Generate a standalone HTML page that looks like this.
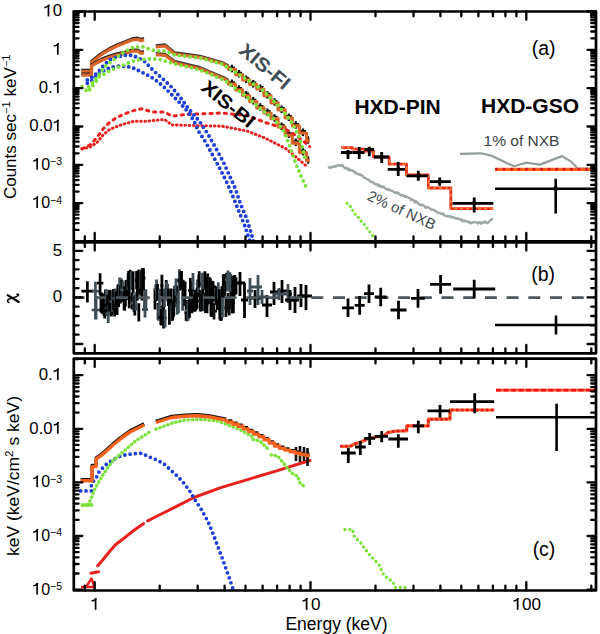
<!DOCTYPE html>
<html><head><meta charset="utf-8"><style>
html,body{margin:0;padding:0;background:#fff;}
svg{display:block;font-family:"Liberation Sans",sans-serif;}
</style></head><body>
<svg width="600" height="634" viewBox="0 0 600 634">
<rect width="600" height="634" fill="#fff"/>
<clipPath id="ca"><rect x="73.8" y="11.5" width="522.2" height="229.8"/></clipPath>
<clipPath id="cb"><rect x="73.8" y="242.3" width="522.2" height="111.0"/></clipPath>
<clipPath id="cc"><rect x="73.8" y="358.6" width="522.2" height="231.89999999999998"/></clipPath>
<g clip-path="url(#ca)">
<polyline points="328.0,167.7 329.0,167.2 330.0,167.9 331.0,166.7 332.0,167.4 333.0,166.9 334.0,166.2 335.0,166.8 336.0,165.7 337.0,166.2 338.0,165.3 339.0,165.0 340.0,165.4 341.0,165.9 342.0,165.1 343.0,165.8 344.0,167.1 345.0,168.2 346.0,168.0 347.0,168.2 348.0,169.8 349.0,168.7 350.0,170.6 351.0,170.1 352.0,170.4 353.0,170.8 354.0,171.7 355.0,173.1 356.0,172.4 357.0,173.6 358.0,174.3 359.0,174.3 360.0,175.1 361.0,174.8 362.0,175.4 363.0,176.3 364.0,177.7 365.0,177.9 366.0,178.3 367.0,179.4 368.0,179.7 369.0,180.0 370.0,181.5 371.0,181.9 372.0,181.5 373.0,182.6 374.0,183.0 375.0,184.2 376.0,184.4 377.0,184.1 378.0,185.9 379.0,184.8 380.0,185.9 381.0,186.9 382.0,186.2 383.0,187.2 384.0,186.8 385.0,188.3 386.0,188.9 387.0,188.9 388.0,189.9 389.0,189.3 390.0,190.4 391.0,190.6 392.0,190.9 393.0,191.1 394.0,192.2 395.0,192.8 396.0,192.4 397.0,193.1 398.0,192.4 399.0,194.0 400.0,194.3 401.0,195.4 402.0,195.6 403.0,195.1 404.0,195.8 405.0,196.8 406.0,196.1 407.0,197.4 408.0,197.4 409.0,197.8 410.0,198.2 411.0,200.0 412.0,199.3 413.0,200.0 414.0,200.8 415.0,202.2 416.0,201.2 417.0,202.4 418.0,203.1 419.0,204.2 420.0,204.6 421.0,205.2 422.0,204.6 423.0,205.3 424.0,205.7 425.0,207.2 426.0,207.8 427.0,206.9 428.0,207.4 429.0,208.0 430.0,208.5 431.0,209.4 432.0,210.0 433.0,209.8 434.0,209.7 435.0,210.9 436.0,211.2 437.0,211.9 438.0,213.0 439.0,212.9 440.0,213.0 441.0,213.6 442.0,214.1 443.0,213.4 444.0,215.3 445.0,215.5 446.0,216.1 447.0,216.3 448.0,216.0 449.0,216.4 450.0,216.3 451.0,217.5 452.0,216.8 453.0,217.1 454.0,217.7 455.0,217.9 456.0,218.5 457.0,218.3 458.0,218.5 459.0,219.1 460.0,219.3 461.0,220.0 462.0,219.6 463.0,221.4 464.0,221.2 465.0,220.6 466.0,221.1 467.0,221.5 468.0,221.8 469.0,221.6 470.0,223.1 471.0,223.4 472.0,222.5 473.0,222.6 474.0,222.0 475.0,222.0 476.0,222.5 477.0,222.4 478.0,223.5 479.0,222.3 480.0,222.1 481.0,223.7 482.0,222.8 483.0,222.0 484.0,222.6 485.0,221.5 486.0,222.3 487.0,223.0 488.0,222.7 489.0,221.8 490.0,220.4 491.0,220.0 492.0,219.0 493.0,219.5" fill="none" stroke="#9ea6a6" stroke-width="2.4" stroke-linejoin="round" />
<polyline points="460.0,153.8 481.0,153.3 491.0,155.6 514.0,166.3 526.0,162.7 540.0,164.6 562.0,156.1 571.0,161.6 578.0,168.7 597.0,168.7" fill="none" stroke="#939c9c" stroke-width="2.2" stroke-linejoin="round" />
<polyline points="81.3,70.0 91.5,70.0 91.5,61.0 96.0,57.2 102.0,52.7 109.5,48.2 117.0,44.5 124.5,41.5 132.0,38.5 138.0,37.8 141.0,39.2 144.0,38.2" fill="none" stroke="#222" stroke-width="2.4" stroke-linejoin="round" />
<polyline points="81.3,71.5 91.5,71.5 91.5,62.5 96.0,58.7 102.0,54.2 109.5,49.7 117.0,46.0 124.5,43.0 132.0,40.0 138.0,39.3 141.0,40.7 144.0,39.7" fill="none" stroke="#d8642a" stroke-width="3.2" stroke-linejoin="round" />
<polyline points="81.3,73.7 91.5,73.7 91.5,64.7 96.0,61.7 102.0,58.7 109.5,55.7 117.0,53.5 124.5,52.0 132.0,49.7 138.0,49.7 141.0,52.0 144.0,51.2" fill="none" stroke="#222" stroke-width="2.4" stroke-linejoin="round" />
<polyline points="81.3,75.2 91.5,75.2 91.5,66.2 96.0,63.2 102.0,60.2 109.5,57.2 117.0,55.0 124.5,53.5 132.0,51.2 138.0,51.2 141.0,53.5 144.0,52.7" fill="none" stroke="#d8642a" stroke-width="3.2" stroke-linejoin="round" />
<polyline points="155.8,45.3 165.0,44.3 175.0,52.3 200.0,55.6 222.0,61.8 228.0,65.0 228.4,67.6" fill="none" stroke="#333" stroke-width="1.9" stroke-linejoin="round" />
<line x1="228.9" y1="67.7" x2="235.0" y2="67.7" stroke="#111" stroke-width="2.6" stroke-linecap="butt"/>
<line x1="231.9" y1="64.8" x2="231.9" y2="72.3" stroke="#111" stroke-width="2.2" stroke-linecap="butt"/>
<line x1="236.0" y1="73.0" x2="242.1" y2="73.0" stroke="#111" stroke-width="2.6" stroke-linecap="butt"/>
<line x1="239.0" y1="70.1" x2="239.0" y2="77.6" stroke="#111" stroke-width="2.2" stroke-linecap="butt"/>
<line x1="243.1" y1="78.3" x2="249.2" y2="78.3" stroke="#111" stroke-width="2.6" stroke-linecap="butt"/>
<line x1="246.1" y1="75.4" x2="246.1" y2="82.9" stroke="#111" stroke-width="2.2" stroke-linecap="butt"/>
<line x1="250.2" y1="82.9" x2="256.3" y2="82.9" stroke="#111" stroke-width="2.6" stroke-linecap="butt"/>
<line x1="253.2" y1="80.0" x2="253.2" y2="87.5" stroke="#111" stroke-width="2.2" stroke-linecap="butt"/>
<line x1="257.3" y1="87.4" x2="263.4" y2="87.4" stroke="#111" stroke-width="2.6" stroke-linecap="butt"/>
<line x1="260.3" y1="84.5" x2="260.3" y2="92.0" stroke="#111" stroke-width="2.2" stroke-linecap="butt"/>
<line x1="264.4" y1="94.1" x2="270.5" y2="94.1" stroke="#111" stroke-width="2.6" stroke-linecap="butt"/>
<line x1="267.4" y1="91.2" x2="267.4" y2="98.7" stroke="#111" stroke-width="2.2" stroke-linecap="butt"/>
<line x1="271.5" y1="101.2" x2="277.6" y2="101.2" stroke="#111" stroke-width="2.6" stroke-linecap="butt"/>
<line x1="274.5" y1="98.3" x2="274.5" y2="105.8" stroke="#111" stroke-width="2.2" stroke-linecap="butt"/>
<line x1="278.6" y1="108.3" x2="284.7" y2="108.3" stroke="#111" stroke-width="2.6" stroke-linecap="butt"/>
<line x1="281.6" y1="105.4" x2="281.6" y2="112.9" stroke="#111" stroke-width="2.2" stroke-linecap="butt"/>
<line x1="285.7" y1="116.4" x2="291.8" y2="116.4" stroke="#111" stroke-width="2.6" stroke-linecap="butt"/>
<line x1="288.8" y1="113.5" x2="288.8" y2="121.0" stroke="#111" stroke-width="2.2" stroke-linecap="butt"/>
<line x1="292.8" y1="124.2" x2="298.9" y2="124.2" stroke="#111" stroke-width="2.6" stroke-linecap="butt"/>
<line x1="295.8" y1="121.3" x2="295.8" y2="128.8" stroke="#111" stroke-width="2.2" stroke-linecap="butt"/>
<line x1="299.9" y1="131.4" x2="306.0" y2="131.4" stroke="#111" stroke-width="2.6" stroke-linecap="butt"/>
<line x1="302.9" y1="128.5" x2="302.9" y2="136.0" stroke="#111" stroke-width="2.2" stroke-linecap="butt"/>
<line x1="307.0" y1="139.2" x2="309.2" y2="139.2" stroke="#111" stroke-width="2.6" stroke-linecap="butt"/>
<line x1="308.1" y1="136.3" x2="308.1" y2="143.8" stroke="#111" stroke-width="2.2" stroke-linecap="butt"/>
<polyline points="155.8,47.0 165.0,46.0 175.0,54.0 200.0,57.3 222.0,63.5 228.0,66.7 228.4,69.3 235.5,69.3 235.5,74.6 242.6,74.6 242.6,79.9 249.7,79.9 249.7,84.5 256.8,84.5 256.8,89.0 263.9,89.0 263.9,95.7 271.0,95.7 271.0,102.8 278.1,102.8 278.1,109.9 285.2,109.9 285.2,118.0 292.3,118.0 292.3,125.8 299.4,125.8 299.4,133.0 306.5,133.0 306.5,140.8 309.7,140.8" fill="none" stroke="#d8642a" stroke-width="3.2" stroke-linejoin="round" />
<polyline points="155.8,53.0 165.0,53.6 175.0,61.0 200.0,67.0 225.0,77.6 228.0,79.5 228.4,82.4" fill="none" stroke="#333" stroke-width="1.9" stroke-linejoin="round" />
<line x1="228.9" y1="82.5" x2="235.0" y2="82.5" stroke="#111" stroke-width="2.6" stroke-linecap="butt"/>
<line x1="231.9" y1="79.6" x2="231.9" y2="87.1" stroke="#111" stroke-width="2.2" stroke-linecap="butt"/>
<line x1="236.0" y1="88.2" x2="242.1" y2="88.2" stroke="#111" stroke-width="2.6" stroke-linecap="butt"/>
<line x1="239.0" y1="85.3" x2="239.0" y2="92.8" stroke="#111" stroke-width="2.2" stroke-linecap="butt"/>
<line x1="243.1" y1="93.9" x2="249.2" y2="93.9" stroke="#111" stroke-width="2.6" stroke-linecap="butt"/>
<line x1="246.1" y1="91.0" x2="246.1" y2="98.5" stroke="#111" stroke-width="2.2" stroke-linecap="butt"/>
<line x1="250.2" y1="100.0" x2="256.3" y2="100.0" stroke="#111" stroke-width="2.6" stroke-linecap="butt"/>
<line x1="253.2" y1="97.1" x2="253.2" y2="104.6" stroke="#111" stroke-width="2.2" stroke-linecap="butt"/>
<line x1="257.3" y1="106.2" x2="263.4" y2="106.2" stroke="#111" stroke-width="2.6" stroke-linecap="butt"/>
<line x1="260.3" y1="103.3" x2="260.3" y2="110.8" stroke="#111" stroke-width="2.2" stroke-linecap="butt"/>
<line x1="264.4" y1="111.4" x2="270.5" y2="111.4" stroke="#111" stroke-width="2.6" stroke-linecap="butt"/>
<line x1="267.4" y1="108.5" x2="267.4" y2="116.0" stroke="#111" stroke-width="2.2" stroke-linecap="butt"/>
<line x1="271.5" y1="117.1" x2="277.6" y2="117.1" stroke="#111" stroke-width="2.6" stroke-linecap="butt"/>
<line x1="274.5" y1="114.2" x2="274.5" y2="121.7" stroke="#111" stroke-width="2.2" stroke-linecap="butt"/>
<line x1="278.6" y1="125.3" x2="284.7" y2="125.3" stroke="#111" stroke-width="2.6" stroke-linecap="butt"/>
<line x1="281.6" y1="122.4" x2="281.6" y2="129.9" stroke="#111" stroke-width="2.2" stroke-linecap="butt"/>
<line x1="285.7" y1="133.5" x2="291.8" y2="133.5" stroke="#111" stroke-width="2.6" stroke-linecap="butt"/>
<line x1="288.8" y1="130.6" x2="288.8" y2="138.1" stroke="#111" stroke-width="2.2" stroke-linecap="butt"/>
<line x1="292.8" y1="141.5" x2="298.9" y2="141.5" stroke="#111" stroke-width="2.6" stroke-linecap="butt"/>
<line x1="295.8" y1="138.6" x2="295.8" y2="146.1" stroke="#111" stroke-width="2.2" stroke-linecap="butt"/>
<line x1="299.9" y1="151.0" x2="306.0" y2="151.0" stroke="#111" stroke-width="2.6" stroke-linecap="butt"/>
<line x1="302.9" y1="148.1" x2="302.9" y2="155.6" stroke="#111" stroke-width="2.2" stroke-linecap="butt"/>
<line x1="307.0" y1="159.1" x2="309.2" y2="159.1" stroke="#111" stroke-width="2.6" stroke-linecap="butt"/>
<line x1="308.1" y1="156.2" x2="308.1" y2="163.7" stroke="#111" stroke-width="2.2" stroke-linecap="butt"/>
<polyline points="155.8,54.7 165.0,55.3 175.0,62.7 200.0,68.7 225.0,79.3 228.0,81.2 228.4,84.1 235.5,84.1 235.5,89.8 242.6,89.8 242.6,95.5 249.7,95.5 249.7,101.6 256.8,101.6 256.8,107.8 263.9,107.8 263.9,113.0 271.0,113.0 271.0,118.7 278.1,118.7 278.1,126.9 285.2,126.9 285.2,135.1 292.3,135.1 292.3,143.1 299.4,143.1 299.4,152.6 306.5,152.6 306.5,160.7 309.7,160.7" fill="none" stroke="#d8642a" stroke-width="3.2" stroke-linejoin="round" />
<polyline points="82.0,148.8 90.0,145.0 97.0,137.5 103.0,129.0 109.5,122.5 116.0,118.0 122.0,115.0 132.0,111.0 142.0,108.8 152.0,112.0 164.5,112.0 172.0,116.2 184.5,114.5 222.0,113.0 247.0,115.5 265.0,122.4 282.0,127.6 292.0,132.8 304.0,141.5 309.7,146.7" fill="none" stroke="#e8201e" stroke-width="3.0" stroke-linejoin="round" stroke-linecap="round" stroke-dasharray="2.2 5"/>
<polyline points="82.0,148.8 90.0,147.0 97.0,142.5 103.0,135.0 109.5,129.5 122.0,124.5 134.5,121.2 147.0,121.2 164.5,119.5 172.0,125.0 222.0,126.2 247.0,131.0 265.0,138.0 275.0,143.2 285.5,148.4 296.0,157.0 306.0,165.7" fill="none" stroke="#e8201e" stroke-width="3.0" stroke-linejoin="round" stroke-linecap="round" stroke-dasharray="0.6 3.6"/>
<polyline points="87.3,80.0 94.0,76.0 98.0,72.0 102.7,66.5 109.3,60.0 116.0,57.3 124.0,55.3 132.0,55.3 138.7,58.0 145.3,62.0 150.0,67.3 155.0,72.0 164.0,80.0 172.0,87.5 180.0,97.0 188.0,108.0 194.0,115.0 200.0,122.0 208.4,135.0 216.0,148.4 223.2,161.7 229.2,175.0 235.5,189.0 240.2,203.3 246.5,218.0 252.0,236.0 254.0,244.0" fill="none" stroke="#1f3fd8" stroke-width="3.9" stroke-linejoin="round" stroke-linecap="round" stroke-dasharray="0 5.2"/>
<polyline points="87.3,83.3 92.7,80.0 96.0,76.0 100.7,72.7 104.7,70.0 111.3,67.3 120.0,66.0 126.7,66.4 133.3,68.0 140.7,71.7 148.0,75.3 154.7,79.3 164.0,87.0 172.0,95.0 180.0,103.0 188.0,112.0 194.0,121.0 198.0,130.4 206.0,142.7 213.1,156.0 220.7,170.2 227.3,183.4 233.0,196.7 238.7,210.9 244.5,225.0 249.5,240.0 251.0,244.0" fill="none" stroke="#1f3fd8" stroke-width="3.9" stroke-linejoin="round" stroke-linecap="round" stroke-dasharray="0 5.2"/>
<polyline points="88.7,86.7 94.0,81.0 99.0,75.0 104.0,67.3 108.0,64.0 114.0,59.5 120.0,54.7 126.7,50.7 133.3,47.3 141.3,46.4 148.0,48.7 154.7,50.7 165.0,51.0 175.0,55.0 200.0,58.0 222.0,64.0 247.0,79.5 262.0,89.5 274.0,101.5 284.0,112.0 292.0,123.0 298.0,134.0 302.0,146.0 305.0,158.0" fill="none" stroke="#7be23a" stroke-width="3.8" stroke-linejoin="round" stroke-linecap="round" stroke-dasharray="0 5.4"/>
<polyline points="82.0,86.7 88.0,92.0 94.0,84.0 97.3,80.0 99.3,76.5 103.3,74.7 108.0,71.5 114.7,68.5 121.3,66.0 129.3,62.5 136.0,60.2 144.0,59.3 152.0,58.7 160.0,59.5 175.0,64.0 200.0,70.0 225.0,80.5 247.0,97.0 262.0,110.0 274.0,119.0 284.0,131.0 290.0,146.7 296.0,164.0 301.0,176.0 305.6,186.0" fill="none" stroke="#7be23a" stroke-width="3.8" stroke-linejoin="round" stroke-linecap="round" stroke-dasharray="0 5.4"/>
<polyline points="341.2,147.7 352.5,147.7 352.5,149.2 364.5,149.2 364.5,151.0 373.5,151.0 373.5,157.0 389.2,157.0 389.2,164.2 406.5,164.2 406.5,175.0 428.3,175.0 428.3,188.0 450.8,188.0 450.8,208.7 493.3,208.7" fill="none" stroke="#ee2a1a" stroke-width="2.8" stroke-linejoin="round" />
<polyline points="341.2,147.7 352.5,147.7 352.5,149.2 364.5,149.2 364.5,151.0 373.5,151.0 373.5,157.0 389.2,157.0 389.2,164.2 406.5,164.2 406.5,175.0 428.3,175.0 428.3,188.0 450.8,188.0 450.8,208.7 493.3,208.7" fill="none" stroke="#f08a3a" stroke-width="1.4" stroke-linejoin="round" stroke-dasharray="3 3"/>
<line x1="341.0" y1="152.5" x2="352.5" y2="152.5" stroke="#000" stroke-width="2.8" stroke-linecap="butt"/>
<line x1="348.0" y1="150.0" x2="348.0" y2="159.0" stroke="#000" stroke-width="2.8" stroke-linecap="butt"/>
<circle cx="348" cy="152.5" r="2.3" fill="#000"/>
<line x1="352.5" y1="152.5" x2="364.5" y2="152.5" stroke="#000" stroke-width="2.8" stroke-linecap="butt"/>
<line x1="359.2" y1="147.0" x2="359.2" y2="159.0" stroke="#000" stroke-width="2.8" stroke-linecap="butt"/>
<circle cx="359.2" cy="152.5" r="2.3" fill="#000"/>
<line x1="364.5" y1="149.5" x2="374.0" y2="149.5" stroke="#000" stroke-width="2.8" stroke-linecap="butt"/>
<line x1="369.3" y1="146.8" x2="369.3" y2="156.2" stroke="#000" stroke-width="2.8" stroke-linecap="butt"/>
<circle cx="369.3" cy="149.5" r="2.3" fill="#000"/>
<line x1="374.0" y1="157.0" x2="389.0" y2="157.0" stroke="#000" stroke-width="2.8" stroke-linecap="butt"/>
<line x1="381.7" y1="152.0" x2="381.7" y2="163.0" stroke="#000" stroke-width="2.8" stroke-linecap="butt"/>
<circle cx="381.7" cy="157" r="2.3" fill="#000"/>
<line x1="387.7" y1="169.3" x2="405.0" y2="169.3" stroke="#000" stroke-width="2.8" stroke-linecap="butt"/>
<line x1="398.2" y1="162.0" x2="398.2" y2="176.0" stroke="#000" stroke-width="2.8" stroke-linecap="butt"/>
<circle cx="398.2" cy="169.3" r="2.3" fill="#000"/>
<line x1="406.5" y1="175.8" x2="428.3" y2="175.8" stroke="#000" stroke-width="2.8" stroke-linecap="butt"/>
<line x1="418.3" y1="170.8" x2="418.3" y2="180.8" stroke="#000" stroke-width="2.8" stroke-linecap="butt"/>
<circle cx="418.3" cy="175.8" r="2.3" fill="#000"/>
<line x1="430.0" y1="181.7" x2="450.8" y2="181.7" stroke="#000" stroke-width="2.8" stroke-linecap="butt"/>
<line x1="439.7" y1="177.5" x2="439.7" y2="185.8" stroke="#000" stroke-width="2.8" stroke-linecap="butt"/>
<circle cx="439.7" cy="181.7" r="2.3" fill="#000"/>
<line x1="452.5" y1="203.3" x2="493.3" y2="203.3" stroke="#000" stroke-width="2.8" stroke-linecap="butt"/>
<line x1="474.2" y1="197.5" x2="474.2" y2="212.5" stroke="#000" stroke-width="2.8" stroke-linecap="butt"/>
<circle cx="474.2" cy="203.3" r="2.3" fill="#000"/>
<polyline points="347.0,203.3 351.0,207.0 354.0,213.0 358.0,217.0 361.0,221.0 364.0,224.0 367.0,228.0 370.0,232.0 373.0,236.0" fill="none" stroke="#7be23a" stroke-width="3.2" stroke-linejoin="round" stroke-linecap="round" stroke-dasharray="0 4.6"/>
<line x1="495.0" y1="169.3" x2="597.0" y2="169.3" stroke="#f5641e" stroke-width="3.2" stroke-linecap="butt"/>
<line x1="496.5" y1="169.3" x2="597" y2="169.3" stroke="#e0141c" stroke-width="3.2" stroke-linecap="round" stroke-dasharray="0 7.5"/>
<line x1="495.0" y1="188.7" x2="597.0" y2="188.7" stroke="#000" stroke-width="2.6" stroke-linecap="butt"/>
<line x1="555.7" y1="178.8" x2="555.7" y2="213.6" stroke="#000" stroke-width="2.6" stroke-linecap="butt"/>
<circle cx="555.7" cy="188.7" r="2.4" fill="#000"/>
</g>
<g clip-path="url(#cb)">
<line x1="87.4" y1="281.2" x2="87.4" y2="302.6" stroke="#000" stroke-width="2.7" stroke-linecap="butt"/>
<line x1="81.4" y1="291.2" x2="93.4" y2="291.2" stroke="#000" stroke-width="2.7" stroke-linecap="butt"/>
<line x1="95.4" y1="281.7" x2="95.4" y2="319.2" stroke="#3f4e56" stroke-width="2.7" stroke-linecap="butt"/>
<line x1="91.9" y1="291.2" x2="98.9" y2="291.2" stroke="#3f4e56" stroke-width="2.7" stroke-linecap="butt"/>
<line x1="100.1" y1="273.2" x2="100.1" y2="295.2" stroke="#000" stroke-width="2.7" stroke-linecap="butt"/>
<line x1="96.9" y1="283.2" x2="103.3" y2="283.2" stroke="#000" stroke-width="2.7" stroke-linecap="butt"/>
<line x1="96.1" y1="296.0" x2="96.1" y2="319.5" stroke="#3f4e56" stroke-width="2.7" stroke-linecap="butt"/>
<line x1="91.6" y1="310.0" x2="100.6" y2="310.0" stroke="#3f4e56" stroke-width="2.7" stroke-linecap="butt"/>
<line x1="101.0" y1="293.4" x2="101.0" y2="312.6" stroke="#000" stroke-width="2.8" stroke-linecap="butt"/>
<line x1="101.9" y1="292.6" x2="101.9" y2="313.4" stroke="#000" stroke-width="2.8" stroke-linecap="butt"/>
<line x1="102.9" y1="293.7" x2="102.9" y2="314.1" stroke="#000" stroke-width="2.8" stroke-linecap="butt"/>
<line x1="104.0" y1="295.3" x2="104.0" y2="316.0" stroke="#000" stroke-width="2.8" stroke-linecap="butt"/>
<line x1="102.5" y1="305.7" x2="105.5" y2="305.7" stroke="#000" stroke-width="2.8" stroke-linecap="butt"/>
<line x1="104.7" y1="296.8" x2="104.7" y2="318.4" stroke="#000" stroke-width="2.8" stroke-linecap="butt"/>
<line x1="105.4" y1="289.7" x2="105.4" y2="307.0" stroke="#000" stroke-width="2.8" stroke-linecap="butt"/>
<line x1="106.1" y1="289.3" x2="106.1" y2="309.2" stroke="#3f4e56" stroke-width="2.8" stroke-linecap="butt"/>
<line x1="107.2" y1="295.2" x2="107.2" y2="315.9" stroke="#000" stroke-width="2.8" stroke-linecap="butt"/>
<line x1="104.2" y1="305.5" x2="110.2" y2="305.5" stroke="#000" stroke-width="2.8" stroke-linecap="butt"/>
<line x1="108.2" y1="304.9" x2="108.2" y2="322.9" stroke="#3f4e56" stroke-width="2.8" stroke-linecap="butt"/>
<line x1="105.2" y1="313.9" x2="111.2" y2="313.9" stroke="#3f4e56" stroke-width="2.8" stroke-linecap="butt"/>
<line x1="108.9" y1="290.0" x2="108.9" y2="311.6" stroke="#000" stroke-width="2.8" stroke-linecap="butt"/>
<line x1="109.5" y1="289.8" x2="109.5" y2="311.2" stroke="#111" stroke-width="2.8" stroke-linecap="butt"/>
<line x1="106.5" y1="300.5" x2="112.5" y2="300.5" stroke="#111" stroke-width="2.8" stroke-linecap="butt"/>
<line x1="110.4" y1="290.2" x2="110.4" y2="308.3" stroke="#000" stroke-width="2.8" stroke-linecap="butt"/>
<line x1="111.2" y1="294.9" x2="111.2" y2="316.5" stroke="#111" stroke-width="2.8" stroke-linecap="butt"/>
<line x1="111.7" y1="298.2" x2="111.7" y2="315.5" stroke="#000" stroke-width="2.8" stroke-linecap="butt"/>
<line x1="110.2" y1="306.9" x2="113.2" y2="306.9" stroke="#000" stroke-width="2.8" stroke-linecap="butt"/>
<line x1="112.5" y1="291.1" x2="112.5" y2="312.1" stroke="#3f4e56" stroke-width="2.8" stroke-linecap="butt"/>
<line x1="109.5" y1="301.6" x2="115.5" y2="301.6" stroke="#3f4e56" stroke-width="2.8" stroke-linecap="butt"/>
<line x1="113.5" y1="289.1" x2="113.5" y2="310.3" stroke="#000" stroke-width="2.8" stroke-linecap="butt"/>
<line x1="114.6" y1="295.8" x2="114.6" y2="316.5" stroke="#000" stroke-width="2.8" stroke-linecap="butt"/>
<line x1="115.2" y1="288.4" x2="115.2" y2="308.1" stroke="#3f4e56" stroke-width="2.8" stroke-linecap="butt"/>
<line x1="112.2" y1="298.3" x2="118.2" y2="298.3" stroke="#3f4e56" stroke-width="2.8" stroke-linecap="butt"/>
<line x1="116.1" y1="291.3" x2="116.1" y2="307.9" stroke="#000" stroke-width="2.8" stroke-linecap="butt"/>
<line x1="117.1" y1="296.0" x2="117.1" y2="315.1" stroke="#000" stroke-width="2.8" stroke-linecap="butt"/>
<line x1="114.1" y1="305.6" x2="120.1" y2="305.6" stroke="#000" stroke-width="2.8" stroke-linecap="butt"/>
<line x1="117.8" y1="285.1" x2="117.8" y2="306.9" stroke="#000" stroke-width="2.8" stroke-linecap="butt"/>
<line x1="114.8" y1="296.0" x2="120.8" y2="296.0" stroke="#000" stroke-width="2.8" stroke-linecap="butt"/>
<line x1="118.6" y1="284.0" x2="118.6" y2="304.9" stroke="#000" stroke-width="2.8" stroke-linecap="butt"/>
<line x1="117.1" y1="294.5" x2="120.1" y2="294.5" stroke="#000" stroke-width="2.8" stroke-linecap="butt"/>
<line x1="119.6" y1="277.5" x2="119.6" y2="298.9" stroke="#3f4e56" stroke-width="2.8" stroke-linecap="butt"/>
<line x1="120.4" y1="285.6" x2="120.4" y2="303.5" stroke="#000" stroke-width="2.8" stroke-linecap="butt"/>
<line x1="118.9" y1="294.6" x2="121.9" y2="294.6" stroke="#000" stroke-width="2.8" stroke-linecap="butt"/>
<line x1="121.3" y1="278.2" x2="121.3" y2="299.5" stroke="#3f4e56" stroke-width="2.8" stroke-linecap="butt"/>
<line x1="119.8" y1="288.8" x2="122.8" y2="288.8" stroke="#3f4e56" stroke-width="2.8" stroke-linecap="butt"/>
<line x1="121.9" y1="280.2" x2="121.9" y2="301.5" stroke="#000" stroke-width="2.8" stroke-linecap="butt"/>
<line x1="118.9" y1="290.8" x2="124.9" y2="290.8" stroke="#000" stroke-width="2.8" stroke-linecap="butt"/>
<line x1="123.0" y1="281.4" x2="123.0" y2="298.4" stroke="#3f4e56" stroke-width="2.8" stroke-linecap="butt"/>
<line x1="120.0" y1="289.9" x2="126.0" y2="289.9" stroke="#3f4e56" stroke-width="2.8" stroke-linecap="butt"/>
<line x1="124.1" y1="291.5" x2="124.1" y2="309.9" stroke="#000" stroke-width="2.8" stroke-linecap="butt"/>
<line x1="122.6" y1="300.7" x2="125.6" y2="300.7" stroke="#000" stroke-width="2.8" stroke-linecap="butt"/>
<line x1="124.6" y1="291.4" x2="124.6" y2="310.8" stroke="#000" stroke-width="2.8" stroke-linecap="butt"/>
<line x1="123.1" y1="301.1" x2="126.1" y2="301.1" stroke="#000" stroke-width="2.8" stroke-linecap="butt"/>
<line x1="125.4" y1="290.3" x2="125.4" y2="306.6" stroke="#000" stroke-width="2.8" stroke-linecap="butt"/>
<line x1="126.0" y1="279.9" x2="126.0" y2="296.1" stroke="#000" stroke-width="2.8" stroke-linecap="butt"/>
<line x1="123.0" y1="288.0" x2="129.0" y2="288.0" stroke="#000" stroke-width="2.8" stroke-linecap="butt"/>
<line x1="127.0" y1="279.8" x2="127.0" y2="299.9" stroke="#000" stroke-width="2.8" stroke-linecap="butt"/>
<line x1="124.0" y1="289.9" x2="130.0" y2="289.9" stroke="#000" stroke-width="2.8" stroke-linecap="butt"/>
<line x1="128.0" y1="273.5" x2="128.0" y2="290.0" stroke="#3f4e56" stroke-width="2.8" stroke-linecap="butt"/>
<line x1="128.6" y1="271.1" x2="128.6" y2="287.2" stroke="#000" stroke-width="2.8" stroke-linecap="butt"/>
<line x1="129.2" y1="287.1" x2="129.2" y2="308.3" stroke="#000" stroke-width="2.8" stroke-linecap="butt"/>
<line x1="126.2" y1="297.7" x2="132.2" y2="297.7" stroke="#000" stroke-width="2.8" stroke-linecap="butt"/>
<line x1="130.2" y1="269.8" x2="130.2" y2="287.4" stroke="#000" stroke-width="2.8" stroke-linecap="butt"/>
<line x1="131.3" y1="272.1" x2="131.3" y2="289.7" stroke="#3f4e56" stroke-width="2.8" stroke-linecap="butt"/>
<line x1="129.8" y1="280.9" x2="132.8" y2="280.9" stroke="#3f4e56" stroke-width="2.8" stroke-linecap="butt"/>
<line x1="132.1" y1="292.4" x2="132.1" y2="309.6" stroke="#000" stroke-width="2.8" stroke-linecap="butt"/>
<line x1="130.6" y1="301.0" x2="133.6" y2="301.0" stroke="#000" stroke-width="2.8" stroke-linecap="butt"/>
<line x1="133.1" y1="271.2" x2="133.1" y2="293.1" stroke="#000" stroke-width="2.8" stroke-linecap="butt"/>
<line x1="133.9" y1="294.4" x2="133.9" y2="311.9" stroke="#3f4e56" stroke-width="2.8" stroke-linecap="butt"/>
<line x1="130.9" y1="303.2" x2="136.9" y2="303.2" stroke="#3f4e56" stroke-width="2.8" stroke-linecap="butt"/>
<line x1="134.8" y1="296.2" x2="134.8" y2="315.5" stroke="#000" stroke-width="2.8" stroke-linecap="butt"/>
<line x1="135.9" y1="292.3" x2="135.9" y2="310.4" stroke="#3f4e56" stroke-width="2.8" stroke-linecap="butt"/>
<line x1="136.6" y1="271.1" x2="136.6" y2="289.2" stroke="#000" stroke-width="2.8" stroke-linecap="butt"/>
<line x1="135.1" y1="280.1" x2="138.1" y2="280.1" stroke="#000" stroke-width="2.8" stroke-linecap="butt"/>
<line x1="137.4" y1="284.3" x2="137.4" y2="300.6" stroke="#000" stroke-width="2.8" stroke-linecap="butt"/>
<line x1="135.9" y1="292.5" x2="138.9" y2="292.5" stroke="#000" stroke-width="2.8" stroke-linecap="butt"/>
<line x1="138.3" y1="270.3" x2="138.3" y2="290.5" stroke="#000" stroke-width="2.8" stroke-linecap="butt"/>
<line x1="135.3" y1="280.4" x2="141.3" y2="280.4" stroke="#000" stroke-width="2.8" stroke-linecap="butt"/>
<line x1="138.8" y1="303.3" x2="138.8" y2="321.4" stroke="#000" stroke-width="2.8" stroke-linecap="butt"/>
<line x1="139.3" y1="269.5" x2="139.3" y2="290.8" stroke="#000" stroke-width="2.8" stroke-linecap="butt"/>
<line x1="136.3" y1="280.2" x2="142.3" y2="280.2" stroke="#000" stroke-width="2.8" stroke-linecap="butt"/>
<line x1="139.8" y1="277.8" x2="139.8" y2="295.5" stroke="#111" stroke-width="2.8" stroke-linecap="butt"/>
<line x1="140.4" y1="269.9" x2="140.4" y2="290.8" stroke="#3f4e56" stroke-width="2.8" stroke-linecap="butt"/>
<line x1="141.1" y1="270.4" x2="141.1" y2="290.2" stroke="#111" stroke-width="2.8" stroke-linecap="butt"/>
<line x1="142.0" y1="280.3" x2="142.0" y2="300.6" stroke="#000" stroke-width="2.8" stroke-linecap="butt"/>
<line x1="139.0" y1="290.5" x2="145.0" y2="290.5" stroke="#000" stroke-width="2.8" stroke-linecap="butt"/>
<line x1="142.5" y1="267.9" x2="142.5" y2="288.2" stroke="#111" stroke-width="2.8" stroke-linecap="butt"/>
<line x1="139.5" y1="278.1" x2="145.5" y2="278.1" stroke="#111" stroke-width="2.8" stroke-linecap="butt"/>
<line x1="143.5" y1="268.2" x2="143.5" y2="289.1" stroke="#000" stroke-width="2.8" stroke-linecap="butt"/>
<line x1="144.5" y1="289.9" x2="144.5" y2="309.4" stroke="#3f4e56" stroke-width="2.8" stroke-linecap="butt"/>
<line x1="145.0" y1="301.3" x2="145.0" y2="317.6" stroke="#3f4e56" stroke-width="2.8" stroke-linecap="butt"/>
<line x1="142.0" y1="309.5" x2="148.0" y2="309.5" stroke="#3f4e56" stroke-width="2.8" stroke-linecap="butt"/>
<line x1="145.9" y1="289.3" x2="145.9" y2="309.0" stroke="#3f4e56" stroke-width="2.8" stroke-linecap="butt"/>
<line x1="144.4" y1="299.1" x2="147.4" y2="299.1" stroke="#3f4e56" stroke-width="2.8" stroke-linecap="butt"/>
<line x1="155.0" y1="288.7" x2="155.0" y2="309.4" stroke="#000" stroke-width="2.8" stroke-linecap="butt"/>
<line x1="155.9" y1="284.6" x2="155.9" y2="301.0" stroke="#000" stroke-width="2.8" stroke-linecap="butt"/>
<line x1="154.4" y1="292.8" x2="157.4" y2="292.8" stroke="#000" stroke-width="2.8" stroke-linecap="butt"/>
<line x1="156.5" y1="279.4" x2="156.5" y2="299.9" stroke="#3f4e56" stroke-width="2.8" stroke-linecap="butt"/>
<line x1="153.5" y1="289.7" x2="159.5" y2="289.7" stroke="#3f4e56" stroke-width="2.8" stroke-linecap="butt"/>
<line x1="157.5" y1="284.1" x2="157.5" y2="300.6" stroke="#000" stroke-width="2.8" stroke-linecap="butt"/>
<line x1="158.1" y1="303.0" x2="158.1" y2="319.9" stroke="#000" stroke-width="2.8" stroke-linecap="butt"/>
<line x1="158.6" y1="304.3" x2="158.6" y2="320.7" stroke="#3f4e56" stroke-width="2.8" stroke-linecap="butt"/>
<line x1="159.5" y1="289.0" x2="159.5" y2="306.8" stroke="#3f4e56" stroke-width="2.8" stroke-linecap="butt"/>
<line x1="160.6" y1="305.5" x2="160.6" y2="324.8" stroke="#3f4e56" stroke-width="2.8" stroke-linecap="butt"/>
<line x1="161.3" y1="309.2" x2="161.3" y2="325.6" stroke="#000" stroke-width="2.8" stroke-linecap="butt"/>
<line x1="158.3" y1="317.4" x2="164.3" y2="317.4" stroke="#000" stroke-width="2.8" stroke-linecap="butt"/>
<line x1="161.9" y1="274.8" x2="161.9" y2="296.5" stroke="#000" stroke-width="2.8" stroke-linecap="butt"/>
<line x1="160.4" y1="285.6" x2="163.4" y2="285.6" stroke="#000" stroke-width="2.8" stroke-linecap="butt"/>
<line x1="163.0" y1="292.1" x2="163.0" y2="308.9" stroke="#000" stroke-width="2.8" stroke-linecap="butt"/>
<line x1="161.5" y1="300.5" x2="164.5" y2="300.5" stroke="#000" stroke-width="2.8" stroke-linecap="butt"/>
<line x1="163.6" y1="307.1" x2="163.6" y2="328.5" stroke="#000" stroke-width="2.8" stroke-linecap="butt"/>
<line x1="160.6" y1="317.8" x2="166.6" y2="317.8" stroke="#000" stroke-width="2.8" stroke-linecap="butt"/>
<line x1="164.5" y1="288.8" x2="164.5" y2="307.2" stroke="#3f4e56" stroke-width="2.8" stroke-linecap="butt"/>
<line x1="163.0" y1="298.0" x2="166.0" y2="298.0" stroke="#3f4e56" stroke-width="2.8" stroke-linecap="butt"/>
<line x1="165.1" y1="309.5" x2="165.1" y2="327.4" stroke="#3f4e56" stroke-width="2.8" stroke-linecap="butt"/>
<line x1="166.2" y1="280.0" x2="166.2" y2="297.1" stroke="#000" stroke-width="2.8" stroke-linecap="butt"/>
<line x1="164.7" y1="288.6" x2="167.7" y2="288.6" stroke="#000" stroke-width="2.8" stroke-linecap="butt"/>
<line x1="166.7" y1="281.5" x2="166.7" y2="299.8" stroke="#3f4e56" stroke-width="2.8" stroke-linecap="butt"/>
<line x1="165.2" y1="290.7" x2="168.2" y2="290.7" stroke="#3f4e56" stroke-width="2.8" stroke-linecap="butt"/>
<line x1="167.7" y1="283.9" x2="167.7" y2="301.6" stroke="#3f4e56" stroke-width="2.8" stroke-linecap="butt"/>
<line x1="168.4" y1="288.5" x2="168.4" y2="306.1" stroke="#000" stroke-width="2.8" stroke-linecap="butt"/>
<line x1="165.4" y1="297.3" x2="171.4" y2="297.3" stroke="#000" stroke-width="2.8" stroke-linecap="butt"/>
<line x1="169.4" y1="303.8" x2="169.4" y2="324.7" stroke="#000" stroke-width="2.8" stroke-linecap="butt"/>
<line x1="170.3" y1="297.2" x2="170.3" y2="313.5" stroke="#111" stroke-width="2.8" stroke-linecap="butt"/>
<line x1="171.2" y1="288.4" x2="171.2" y2="306.1" stroke="#000" stroke-width="2.8" stroke-linecap="butt"/>
<line x1="172.0" y1="303.1" x2="172.0" y2="321.2" stroke="#3f4e56" stroke-width="2.8" stroke-linecap="butt"/>
<line x1="170.5" y1="312.2" x2="173.5" y2="312.2" stroke="#3f4e56" stroke-width="2.8" stroke-linecap="butt"/>
<line x1="172.7" y1="303.0" x2="172.7" y2="320.4" stroke="#000" stroke-width="2.8" stroke-linecap="butt"/>
<line x1="173.6" y1="300.3" x2="173.6" y2="316.8" stroke="#000" stroke-width="2.8" stroke-linecap="butt"/>
<line x1="174.4" y1="289.1" x2="174.4" y2="307.1" stroke="#000" stroke-width="2.8" stroke-linecap="butt"/>
<line x1="175.0" y1="285.7" x2="175.0" y2="302.8" stroke="#000" stroke-width="2.8" stroke-linecap="butt"/>
<line x1="173.5" y1="294.3" x2="176.5" y2="294.3" stroke="#000" stroke-width="2.8" stroke-linecap="butt"/>
<line x1="176.0" y1="278.6" x2="176.0" y2="295.8" stroke="#3f4e56" stroke-width="2.8" stroke-linecap="butt"/>
<line x1="173.0" y1="287.2" x2="179.0" y2="287.2" stroke="#3f4e56" stroke-width="2.8" stroke-linecap="butt"/>
<line x1="177.0" y1="297.4" x2="177.0" y2="314.7" stroke="#3f4e56" stroke-width="2.8" stroke-linecap="butt"/>
<line x1="175.5" y1="306.1" x2="178.5" y2="306.1" stroke="#3f4e56" stroke-width="2.8" stroke-linecap="butt"/>
<line x1="177.8" y1="285.8" x2="177.8" y2="303.9" stroke="#111" stroke-width="2.8" stroke-linecap="butt"/>
<line x1="178.4" y1="291.8" x2="178.4" y2="313.2" stroke="#3f4e56" stroke-width="2.8" stroke-linecap="butt"/>
<line x1="176.9" y1="302.5" x2="179.9" y2="302.5" stroke="#3f4e56" stroke-width="2.8" stroke-linecap="butt"/>
<line x1="179.4" y1="269.3" x2="179.4" y2="290.6" stroke="#3f4e56" stroke-width="2.8" stroke-linecap="butt"/>
<line x1="176.4" y1="280.0" x2="182.4" y2="280.0" stroke="#3f4e56" stroke-width="2.8" stroke-linecap="butt"/>
<line x1="180.5" y1="271.6" x2="180.5" y2="290.5" stroke="#111" stroke-width="2.8" stroke-linecap="butt"/>
<line x1="177.5" y1="281.0" x2="183.5" y2="281.0" stroke="#111" stroke-width="2.8" stroke-linecap="butt"/>
<line x1="181.5" y1="271.1" x2="181.5" y2="288.6" stroke="#000" stroke-width="2.8" stroke-linecap="butt"/>
<line x1="182.6" y1="290.5" x2="182.6" y2="310.8" stroke="#3f4e56" stroke-width="2.8" stroke-linecap="butt"/>
<line x1="183.4" y1="280.2" x2="183.4" y2="296.5" stroke="#000" stroke-width="2.8" stroke-linecap="butt"/>
<line x1="181.9" y1="288.4" x2="184.9" y2="288.4" stroke="#000" stroke-width="2.8" stroke-linecap="butt"/>
<line x1="184.5" y1="285.9" x2="184.5" y2="305.7" stroke="#111" stroke-width="2.8" stroke-linecap="butt"/>
<line x1="185.1" y1="281.5" x2="185.1" y2="299.3" stroke="#000" stroke-width="2.8" stroke-linecap="butt"/>
<line x1="186.1" y1="304.7" x2="186.1" y2="320.7" stroke="#000" stroke-width="2.8" stroke-linecap="butt"/>
<line x1="184.6" y1="312.7" x2="187.6" y2="312.7" stroke="#000" stroke-width="2.8" stroke-linecap="butt"/>
<line x1="186.9" y1="299.9" x2="186.9" y2="321.2" stroke="#000" stroke-width="2.8" stroke-linecap="butt"/>
<line x1="188.0" y1="300.5" x2="188.0" y2="320.7" stroke="#3f4e56" stroke-width="2.8" stroke-linecap="butt"/>
<line x1="185.0" y1="310.6" x2="191.0" y2="310.6" stroke="#3f4e56" stroke-width="2.8" stroke-linecap="butt"/>
<line x1="188.6" y1="301.6" x2="188.6" y2="319.0" stroke="#3f4e56" stroke-width="2.8" stroke-linecap="butt"/>
<line x1="189.5" y1="297.5" x2="189.5" y2="317.8" stroke="#000" stroke-width="2.8" stroke-linecap="butt"/>
<line x1="188.0" y1="307.6" x2="191.0" y2="307.6" stroke="#000" stroke-width="2.8" stroke-linecap="butt"/>
<line x1="190.4" y1="278.0" x2="190.4" y2="297.0" stroke="#000" stroke-width="2.8" stroke-linecap="butt"/>
<line x1="191.1" y1="281.7" x2="191.1" y2="299.0" stroke="#000" stroke-width="2.8" stroke-linecap="butt"/>
<line x1="188.1" y1="290.3" x2="194.1" y2="290.3" stroke="#000" stroke-width="2.8" stroke-linecap="butt"/>
<line x1="191.9" y1="291.9" x2="191.9" y2="313.2" stroke="#000" stroke-width="2.8" stroke-linecap="butt"/>
<line x1="193.0" y1="273.1" x2="193.0" y2="289.5" stroke="#3f4e56" stroke-width="2.8" stroke-linecap="butt"/>
<line x1="193.9" y1="294.3" x2="193.9" y2="311.4" stroke="#000" stroke-width="2.8" stroke-linecap="butt"/>
<line x1="195.0" y1="290.1" x2="195.0" y2="311.7" stroke="#000" stroke-width="2.8" stroke-linecap="butt"/>
<line x1="192.0" y1="300.9" x2="198.0" y2="300.9" stroke="#000" stroke-width="2.8" stroke-linecap="butt"/>
<line x1="195.5" y1="290.5" x2="195.5" y2="310.5" stroke="#000" stroke-width="2.8" stroke-linecap="butt"/>
<line x1="192.5" y1="300.5" x2="198.5" y2="300.5" stroke="#000" stroke-width="2.8" stroke-linecap="butt"/>
<line x1="196.1" y1="294.0" x2="196.1" y2="310.0" stroke="#000" stroke-width="2.8" stroke-linecap="butt"/>
<line x1="196.9" y1="288.2" x2="196.9" y2="308.8" stroke="#000" stroke-width="2.8" stroke-linecap="butt"/>
<line x1="197.8" y1="279.6" x2="197.8" y2="296.8" stroke="#000" stroke-width="2.8" stroke-linecap="butt"/>
<line x1="196.3" y1="288.2" x2="199.3" y2="288.2" stroke="#000" stroke-width="2.8" stroke-linecap="butt"/>
<line x1="198.7" y1="274.4" x2="198.7" y2="293.2" stroke="#3f4e56" stroke-width="2.8" stroke-linecap="butt"/>
<line x1="195.7" y1="283.8" x2="201.7" y2="283.8" stroke="#3f4e56" stroke-width="2.8" stroke-linecap="butt"/>
<line x1="199.2" y1="271.2" x2="199.2" y2="287.4" stroke="#000" stroke-width="2.8" stroke-linecap="butt"/>
<line x1="200.2" y1="289.9" x2="200.2" y2="311.3" stroke="#000" stroke-width="2.8" stroke-linecap="butt"/>
<line x1="200.8" y1="291.2" x2="200.8" y2="311.5" stroke="#000" stroke-width="2.8" stroke-linecap="butt"/>
<line x1="201.4" y1="292.2" x2="201.4" y2="309.6" stroke="#111" stroke-width="2.8" stroke-linecap="butt"/>
<line x1="198.4" y1="300.9" x2="204.4" y2="300.9" stroke="#111" stroke-width="2.8" stroke-linecap="butt"/>
<line x1="202.3" y1="272.7" x2="202.3" y2="294.2" stroke="#3f4e56" stroke-width="2.8" stroke-linecap="butt"/>
<line x1="202.8" y1="289.2" x2="202.8" y2="310.8" stroke="#000" stroke-width="2.8" stroke-linecap="butt"/>
<line x1="203.5" y1="292.8" x2="203.5" y2="310.7" stroke="#000" stroke-width="2.8" stroke-linecap="butt"/>
<line x1="204.3" y1="294.3" x2="204.3" y2="311.3" stroke="#3f4e56" stroke-width="2.8" stroke-linecap="butt"/>
<line x1="202.8" y1="302.8" x2="205.8" y2="302.8" stroke="#3f4e56" stroke-width="2.8" stroke-linecap="butt"/>
<line x1="204.9" y1="271.2" x2="204.9" y2="289.8" stroke="#000" stroke-width="2.8" stroke-linecap="butt"/>
<line x1="205.5" y1="294.4" x2="205.5" y2="312.9" stroke="#000" stroke-width="2.8" stroke-linecap="butt"/>
<line x1="206.1" y1="277.1" x2="206.1" y2="295.8" stroke="#000" stroke-width="2.8" stroke-linecap="butt"/>
<line x1="207.0" y1="295.5" x2="207.0" y2="313.2" stroke="#000" stroke-width="2.8" stroke-linecap="butt"/>
<line x1="205.5" y1="304.4" x2="208.5" y2="304.4" stroke="#000" stroke-width="2.8" stroke-linecap="butt"/>
<line x1="207.7" y1="273.5" x2="207.7" y2="291.0" stroke="#000" stroke-width="2.8" stroke-linecap="butt"/>
<line x1="208.4" y1="285.6" x2="208.4" y2="304.0" stroke="#000" stroke-width="2.8" stroke-linecap="butt"/>
<line x1="209.3" y1="276.9" x2="209.3" y2="298.9" stroke="#111" stroke-width="2.8" stroke-linecap="butt"/>
<line x1="210.3" y1="277.9" x2="210.3" y2="299.4" stroke="#000" stroke-width="2.8" stroke-linecap="butt"/>
<line x1="210.9" y1="294.4" x2="210.9" y2="316.2" stroke="#000" stroke-width="2.8" stroke-linecap="butt"/>
<line x1="211.6" y1="299.4" x2="211.6" y2="317.0" stroke="#000" stroke-width="2.8" stroke-linecap="butt"/>
<line x1="210.1" y1="308.2" x2="213.1" y2="308.2" stroke="#000" stroke-width="2.8" stroke-linecap="butt"/>
<line x1="212.3" y1="280.8" x2="212.3" y2="299.0" stroke="#000" stroke-width="2.8" stroke-linecap="butt"/>
<line x1="213.1" y1="281.6" x2="213.1" y2="301.5" stroke="#000" stroke-width="2.8" stroke-linecap="butt"/>
<line x1="210.1" y1="291.5" x2="216.1" y2="291.5" stroke="#000" stroke-width="2.8" stroke-linecap="butt"/>
<line x1="214.0" y1="302.5" x2="214.0" y2="319.6" stroke="#111" stroke-width="2.8" stroke-linecap="butt"/>
<line x1="211.0" y1="311.1" x2="217.0" y2="311.1" stroke="#111" stroke-width="2.8" stroke-linecap="butt"/>
<line x1="214.9" y1="285.4" x2="214.9" y2="301.8" stroke="#000" stroke-width="2.8" stroke-linecap="butt"/>
<line x1="215.7" y1="287.7" x2="215.7" y2="304.2" stroke="#3f4e56" stroke-width="2.8" stroke-linecap="butt"/>
<line x1="214.2" y1="296.0" x2="217.2" y2="296.0" stroke="#3f4e56" stroke-width="2.8" stroke-linecap="butt"/>
<line x1="216.6" y1="286.5" x2="216.6" y2="305.0" stroke="#000" stroke-width="2.8" stroke-linecap="butt"/>
<line x1="213.6" y1="295.7" x2="219.6" y2="295.7" stroke="#000" stroke-width="2.8" stroke-linecap="butt"/>
<line x1="217.4" y1="288.9" x2="217.4" y2="310.1" stroke="#000" stroke-width="2.8" stroke-linecap="butt"/>
<line x1="214.4" y1="299.5" x2="220.4" y2="299.5" stroke="#000" stroke-width="2.8" stroke-linecap="butt"/>
<line x1="218.3" y1="282.3" x2="218.3" y2="299.5" stroke="#3f4e56" stroke-width="2.8" stroke-linecap="butt"/>
<line x1="219.3" y1="289.2" x2="219.3" y2="307.6" stroke="#000" stroke-width="2.8" stroke-linecap="butt"/>
<line x1="219.8" y1="300.2" x2="219.8" y2="319.5" stroke="#000" stroke-width="2.8" stroke-linecap="butt"/>
<line x1="218.3" y1="309.9" x2="221.3" y2="309.9" stroke="#000" stroke-width="2.8" stroke-linecap="butt"/>
<line x1="220.8" y1="304.0" x2="220.8" y2="321.0" stroke="#000" stroke-width="2.8" stroke-linecap="butt"/>
<line x1="221.3" y1="301.3" x2="221.3" y2="320.2" stroke="#000" stroke-width="2.8" stroke-linecap="butt"/>
<line x1="219.8" y1="310.8" x2="222.8" y2="310.8" stroke="#000" stroke-width="2.8" stroke-linecap="butt"/>
<line x1="221.9" y1="286.2" x2="221.9" y2="307.8" stroke="#000" stroke-width="2.8" stroke-linecap="butt"/>
<line x1="218.9" y1="297.0" x2="224.9" y2="297.0" stroke="#000" stroke-width="2.8" stroke-linecap="butt"/>
<line x1="222.5" y1="297.3" x2="222.5" y2="317.6" stroke="#3f4e56" stroke-width="2.8" stroke-linecap="butt"/>
<line x1="223.3" y1="274.7" x2="223.3" y2="294.4" stroke="#000" stroke-width="2.8" stroke-linecap="butt"/>
<line x1="223.9" y1="274.1" x2="223.9" y2="295.8" stroke="#000" stroke-width="2.8" stroke-linecap="butt"/>
<line x1="225.0" y1="275.2" x2="225.0" y2="296.1" stroke="#111" stroke-width="2.8" stroke-linecap="butt"/>
<line x1="225.9" y1="299.0" x2="225.9" y2="317.0" stroke="#111" stroke-width="2.8" stroke-linecap="butt"/>
<line x1="224.4" y1="308.0" x2="227.4" y2="308.0" stroke="#111" stroke-width="2.8" stroke-linecap="butt"/>
<line x1="226.7" y1="272.8" x2="226.7" y2="290.6" stroke="#000" stroke-width="2.8" stroke-linecap="butt"/>
<line x1="223.7" y1="281.7" x2="229.7" y2="281.7" stroke="#000" stroke-width="2.8" stroke-linecap="butt"/>
<line x1="227.5" y1="274.2" x2="227.5" y2="291.3" stroke="#3f4e56" stroke-width="2.8" stroke-linecap="butt"/>
<line x1="228.3" y1="293.0" x2="228.3" y2="312.7" stroke="#111" stroke-width="2.8" stroke-linecap="butt"/>
<line x1="225.3" y1="302.8" x2="231.3" y2="302.8" stroke="#111" stroke-width="2.8" stroke-linecap="butt"/>
<line x1="229.1" y1="299.2" x2="229.1" y2="315.6" stroke="#111" stroke-width="2.8" stroke-linecap="butt"/>
<line x1="226.1" y1="307.4" x2="232.1" y2="307.4" stroke="#111" stroke-width="2.8" stroke-linecap="butt"/>
<line x1="229.9" y1="272.3" x2="229.9" y2="292.3" stroke="#3f4e56" stroke-width="2.8" stroke-linecap="butt"/>
<line x1="228.4" y1="282.3" x2="231.4" y2="282.3" stroke="#3f4e56" stroke-width="2.8" stroke-linecap="butt"/>
<line x1="230.8" y1="273.9" x2="230.8" y2="293.0" stroke="#3f4e56" stroke-width="2.8" stroke-linecap="butt"/>
<line x1="231.3" y1="291.4" x2="231.3" y2="307.8" stroke="#000" stroke-width="2.8" stroke-linecap="butt"/>
<line x1="231.9" y1="292.3" x2="231.9" y2="313.6" stroke="#111" stroke-width="2.8" stroke-linecap="butt"/>
<line x1="232.8" y1="275.9" x2="232.8" y2="296.2" stroke="#000" stroke-width="2.8" stroke-linecap="butt"/>
<line x1="231.3" y1="286.1" x2="234.3" y2="286.1" stroke="#000" stroke-width="2.8" stroke-linecap="butt"/>
<line x1="233.4" y1="291.8" x2="233.4" y2="313.2" stroke="#000" stroke-width="2.8" stroke-linecap="butt"/>
<line x1="231.9" y1="302.5" x2="234.9" y2="302.5" stroke="#000" stroke-width="2.8" stroke-linecap="butt"/>
<line x1="234.2" y1="274.9" x2="234.2" y2="296.4" stroke="#000" stroke-width="2.8" stroke-linecap="butt"/>
<line x1="234.9" y1="274.9" x2="234.9" y2="291.2" stroke="#000" stroke-width="2.8" stroke-linecap="butt"/>
<line x1="233.4" y1="283.1" x2="236.4" y2="283.1" stroke="#000" stroke-width="2.8" stroke-linecap="butt"/>
<line x1="236.0" y1="277.6" x2="236.0" y2="294.6" stroke="#000" stroke-width="2.8" stroke-linecap="butt"/>
<line x1="228.0" y1="270.5" x2="228.0" y2="290.0" stroke="#3f4e56" stroke-width="2.8" stroke-linecap="butt"/>
<line x1="225.0" y1="280.0" x2="231.0" y2="280.0" stroke="#3f4e56" stroke-width="2.8" stroke-linecap="butt"/>
<line x1="240.0" y1="272.0" x2="240.0" y2="296.0" stroke="#000" stroke-width="2.8" stroke-linecap="butt"/>
<line x1="236.0" y1="283.0" x2="245.0" y2="283.0" stroke="#000" stroke-width="2.8" stroke-linecap="butt"/>
<line x1="244.5" y1="283.0" x2="244.5" y2="318.0" stroke="#000" stroke-width="2.8" stroke-linecap="butt"/>
<line x1="241.0" y1="300.0" x2="248.0" y2="300.0" stroke="#000" stroke-width="2.8" stroke-linecap="butt"/>
<line x1="250.0" y1="278.0" x2="250.0" y2="305.0" stroke="#3f4e56" stroke-width="2.8" stroke-linecap="butt"/>
<line x1="247.0" y1="291.0" x2="253.0" y2="291.0" stroke="#3f4e56" stroke-width="2.8" stroke-linecap="butt"/>
<line x1="258.0" y1="275.0" x2="258.0" y2="305.0" stroke="#3f4e56" stroke-width="2.8" stroke-linecap="butt"/>
<line x1="250.0" y1="287.0" x2="262.0" y2="287.0" stroke="#3f4e56" stroke-width="2.8" stroke-linecap="butt"/>
<line x1="255.0" y1="290.0" x2="255.0" y2="308.0" stroke="#000" stroke-width="2.8" stroke-linecap="butt"/>
<line x1="250.0" y1="298.0" x2="262.0" y2="298.0" stroke="#000" stroke-width="2.8" stroke-linecap="butt"/>
<line x1="267.0" y1="295.0" x2="267.0" y2="317.0" stroke="#000" stroke-width="2.8" stroke-linecap="butt"/>
<line x1="262.0" y1="305.0" x2="272.0" y2="305.0" stroke="#000" stroke-width="2.8" stroke-linecap="butt"/>
<line x1="274.0" y1="282.0" x2="274.0" y2="305.0" stroke="#000" stroke-width="2.8" stroke-linecap="butt"/>
<line x1="270.0" y1="292.0" x2="282.0" y2="292.0" stroke="#000" stroke-width="2.8" stroke-linecap="butt"/>
<line x1="282.0" y1="280.0" x2="282.0" y2="303.0" stroke="#000" stroke-width="2.8" stroke-linecap="butt"/>
<line x1="277.0" y1="291.0" x2="287.0" y2="291.0" stroke="#000" stroke-width="2.8" stroke-linecap="butt"/>
<line x1="288.0" y1="284.0" x2="288.0" y2="303.0" stroke="#3f4e56" stroke-width="2.8" stroke-linecap="butt"/>
<line x1="284.0" y1="294.0" x2="292.0" y2="294.0" stroke="#3f4e56" stroke-width="2.8" stroke-linecap="butt"/>
<line x1="290.0" y1="290.0" x2="290.0" y2="310.0" stroke="#000" stroke-width="2.8" stroke-linecap="butt"/>
<line x1="285.0" y1="300.0" x2="297.0" y2="300.0" stroke="#000" stroke-width="2.8" stroke-linecap="butt"/>
<line x1="295.0" y1="287.0" x2="295.0" y2="313.0" stroke="#000" stroke-width="2.8" stroke-linecap="butt"/>
<line x1="291.0" y1="300.0" x2="299.0" y2="300.0" stroke="#000" stroke-width="2.8" stroke-linecap="butt"/>
<line x1="301.0" y1="284.0" x2="301.0" y2="307.0" stroke="#000" stroke-width="2.8" stroke-linecap="butt"/>
<line x1="297.0" y1="296.0" x2="305.0" y2="296.0" stroke="#000" stroke-width="2.8" stroke-linecap="butt"/>
<line x1="306.0" y1="285.0" x2="306.0" y2="310.0" stroke="#000" stroke-width="2.8" stroke-linecap="butt"/>
<line x1="300.0" y1="296.0" x2="312.0" y2="296.0" stroke="#000" stroke-width="2.8" stroke-linecap="butt"/>
<line x1="262.0" y1="290.0" x2="262.0" y2="304.0" stroke="#3f4e56" stroke-width="2.8" stroke-linecap="butt"/>
<line x1="256.0" y1="297.0" x2="268.0" y2="297.0" stroke="#3f4e56" stroke-width="2.8" stroke-linecap="butt"/>
<line x1="279.0" y1="288.0" x2="279.0" y2="300.0" stroke="#3f4e56" stroke-width="2.8" stroke-linecap="butt"/>
<line x1="273.0" y1="294.0" x2="284.0" y2="294.0" stroke="#3f4e56" stroke-width="2.8" stroke-linecap="butt"/>
<polyline points="72.6,297.6 596.0,297.6" fill="none" stroke="#4d575c" stroke-width="2.6" stroke-linejoin="round" stroke-dasharray="12 9.7"/>
<line x1="348.0" y1="298.5" x2="348.0" y2="317.1" stroke="#000" stroke-width="2.8" stroke-linecap="butt"/>
<line x1="342.0" y1="307.8" x2="354.0" y2="307.8" stroke="#000" stroke-width="2.8" stroke-linecap="butt"/>
<line x1="359.7" y1="296.1" x2="359.7" y2="314.7" stroke="#000" stroke-width="2.8" stroke-linecap="butt"/>
<line x1="354.7" y1="305.4" x2="364.7" y2="305.4" stroke="#000" stroke-width="2.8" stroke-linecap="butt"/>
<line x1="369.0" y1="284.4" x2="369.0" y2="303.0" stroke="#000" stroke-width="2.8" stroke-linecap="butt"/>
<line x1="364.0" y1="293.7" x2="374.0" y2="293.7" stroke="#000" stroke-width="2.8" stroke-linecap="butt"/>
<line x1="380.7" y1="287.7" x2="380.7" y2="306.3" stroke="#000" stroke-width="2.8" stroke-linecap="butt"/>
<line x1="374.7" y1="297.0" x2="386.7" y2="297.0" stroke="#000" stroke-width="2.8" stroke-linecap="butt"/>
<line x1="398.5" y1="300.7" x2="398.5" y2="319.3" stroke="#000" stroke-width="2.8" stroke-linecap="butt"/>
<line x1="390.5" y1="310.0" x2="406.5" y2="310.0" stroke="#000" stroke-width="2.8" stroke-linecap="butt"/>
<line x1="418.0" y1="289.1" x2="418.0" y2="307.7" stroke="#000" stroke-width="2.8" stroke-linecap="butt"/>
<line x1="411.0" y1="298.4" x2="425.0" y2="298.4" stroke="#000" stroke-width="2.8" stroke-linecap="butt"/>
<line x1="440.6" y1="275.1" x2="440.6" y2="293.7" stroke="#000" stroke-width="2.8" stroke-linecap="butt"/>
<line x1="430.1" y1="284.4" x2="451.1" y2="284.4" stroke="#000" stroke-width="2.8" stroke-linecap="butt"/>
<line x1="474.2" y1="279.7" x2="474.2" y2="298.3" stroke="#000" stroke-width="2.8" stroke-linecap="butt"/>
<line x1="453.2" y1="289.0" x2="495.2" y2="289.0" stroke="#000" stroke-width="2.8" stroke-linecap="butt"/>
<line x1="495.0" y1="325.0" x2="597.0" y2="325.0" stroke="#000" stroke-width="2.6" stroke-linecap="butt"/>
<line x1="556.0" y1="315.5" x2="556.0" y2="334.5" stroke="#000" stroke-width="2.6" stroke-linecap="butt"/>
</g>
<g clip-path="url(#cc)">
<polyline points="97.7,565.8 102.7,560.0 109.3,551.7 116.0,544.2 126.0,536.7 134.3,530.0 143.5,523.7" fill="none" stroke="#e8201e" stroke-width="3.0" stroke-linejoin="round" stroke-linecap="round"/>
<polyline points="147.7,520.8 159.3,515.0 176.0,506.7 193.9,497.5 220.8,487.6 249.2,479.1 277.5,470.6 307.2,461.2 310.0,460.5" fill="none" stroke="#e8201e" stroke-width="3.0" stroke-linejoin="round" stroke-linecap="round"/>
<polyline points="81.0,587.0 95.0,587.0" fill="none" stroke="#e8201e" stroke-width="2.6" stroke-linejoin="round" />
<polyline points="86.0,587.0 91.5,578.5 94.5,587.0" fill="none" stroke="#e8201e" stroke-width="2.4" stroke-linejoin="round" />
<polyline points="91.0,573.3 98.5,571.7" fill="none" stroke="#e8201e" stroke-width="3.0" stroke-linejoin="round" stroke-linecap="round"/>
<polyline points="80.7,490.9 91.4,490.9 91.4,483.8 96.1,477.9 99.1,471.7 105.0,465.4 111.5,460.7 118.6,456.6 125.7,454.8 134.0,453.6 141.7,453.3 146.7,455.8 155.0,459.2 163.3,463.3 169.8,469.2 178.3,477.0 184.0,483.3 190.0,491.5 195.3,500.3 202.0,510.5 208.0,521.6 212.0,531.0 222.0,557.5 230.0,580.0 234.0,592.0" fill="none" stroke="#1f3fd8" stroke-width="3.8" stroke-linejoin="round" stroke-linecap="round" stroke-dasharray="0 5.3"/>
<polyline points="80.7,505.0 93.2,505.0" fill="none" stroke="#7be23a" stroke-width="3.6" stroke-linejoin="round" />
<polyline points="87.8,505.0 91.4,498.0 95.0,488.5 99.7,480.2 105.6,470.8 111.5,462.5 117.4,456.6 125.7,449.5 135.2,441.2 150.8,431.3" fill="none" stroke="#7be23a" stroke-width="3.3" stroke-linejoin="round" stroke-linecap="round" stroke-dasharray="0.6 3.6"/>
<polyline points="155.8,429.2 171.7,423.3 185.0,420.0 200.0,419.2 216.7,420.8 225.0,423.7 240.0,429.7 252.0,436.5" fill="none" stroke="#7be23a" stroke-width="3.3" stroke-linejoin="round" stroke-linecap="round" stroke-dasharray="0.6 3.6"/>
<polyline points="253.0,439.5 260.0,441.0 268.8,449.9" fill="none" stroke="#7be23a" stroke-width="3.3" stroke-linejoin="round" stroke-linecap="round" stroke-dasharray="0.6 3.6"/>
<polyline points="271.0,454.9 277.7,456.0 285.4,465.4 292.0,473.1 297.6,476.4 299.8,482.5 305.9,488.0" fill="none" stroke="#7be23a" stroke-width="3.3" stroke-linejoin="round" stroke-linecap="round" stroke-dasharray="0.6 3.6"/>
<polyline points="345.0,529.5 352.5,529.5 354.0,536.0 358.8,541.2 361.0,543.0 364.0,547.5 368.8,554.0 373.5,559.0 378.8,564.5 384.0,575.5 393.0,582.0 395.0,587.5 407.0,587.5" fill="none" stroke="#7be23a" stroke-width="3.4" stroke-linejoin="round" stroke-linecap="round" stroke-dasharray="0 4.8"/>
<polyline points="80.7,479.6 92.0,479.6 92.0,465.4 96.1,465.4 96.1,457.8 101.4,454.2 106.8,449.5 112.7,444.1 121.0,437.3 130.0,430.8 144.2,423.8" fill="none" stroke="#111" stroke-width="3.2" stroke-linejoin="round" />
<polyline points="80.7,480.8 92.0,480.8 92.0,466.6 96.1,466.6 96.1,459.0 101.4,455.4 106.8,450.7 112.7,445.3 121.0,438.5 130.0,432.0 144.2,425.0" fill="none" stroke="#f5621e" stroke-width="3.4" stroke-linejoin="round" />
<polyline points="155.8,421.3 171.7,416.3 185.0,415.1 196.7,414.6 208.3,415.5 225.0,418.8 226.0,419.2" fill="none" stroke="#111" stroke-width="3.2" stroke-linejoin="round" />
<line x1="228.0" y1="420.6" x2="232.4" y2="420.6" stroke="#111" stroke-width="2.6" stroke-linecap="butt"/>
<line x1="233.2" y1="422.7" x2="237.6" y2="422.7" stroke="#111" stroke-width="2.6" stroke-linecap="butt"/>
<line x1="238.4" y1="424.8" x2="242.8" y2="424.8" stroke="#111" stroke-width="2.6" stroke-linecap="butt"/>
<line x1="243.6" y1="427.4" x2="248.0" y2="427.4" stroke="#111" stroke-width="2.6" stroke-linecap="butt"/>
<line x1="248.8" y1="430.0" x2="253.2" y2="430.0" stroke="#111" stroke-width="2.6" stroke-linecap="butt"/>
<line x1="254.0" y1="432.6" x2="258.4" y2="432.6" stroke="#111" stroke-width="2.6" stroke-linecap="butt"/>
<line x1="259.2" y1="435.2" x2="263.6" y2="435.2" stroke="#111" stroke-width="2.6" stroke-linecap="butt"/>
<line x1="264.4" y1="438.3" x2="268.8" y2="438.3" stroke="#111" stroke-width="2.6" stroke-linecap="butt"/>
<line x1="269.6" y1="441.5" x2="274.0" y2="441.5" stroke="#111" stroke-width="2.6" stroke-linecap="butt"/>
<line x1="274.8" y1="444.5" x2="279.2" y2="444.5" stroke="#111" stroke-width="2.6" stroke-linecap="butt"/>
<line x1="280.0" y1="446.9" x2="284.4" y2="446.9" stroke="#111" stroke-width="2.6" stroke-linecap="butt"/>
<line x1="285.2" y1="448.6" x2="289.6" y2="448.6" stroke="#111" stroke-width="2.6" stroke-linecap="butt"/>
<line x1="290.4" y1="450.2" x2="294.8" y2="450.2" stroke="#111" stroke-width="2.6" stroke-linecap="butt"/>
<line x1="295.6" y1="451.7" x2="300.0" y2="451.7" stroke="#111" stroke-width="2.6" stroke-linecap="butt"/>
<line x1="300.8" y1="453.0" x2="305.2" y2="453.0" stroke="#111" stroke-width="2.6" stroke-linecap="butt"/>
<line x1="306.0" y1="454.0" x2="309.6" y2="454.0" stroke="#111" stroke-width="2.6" stroke-linecap="butt"/>
<line x1="296.0" y1="447.0" x2="296.0" y2="461.0" stroke="#111" stroke-width="2.6" stroke-linecap="butt"/>
<line x1="300.0" y1="446.0" x2="300.0" y2="462.0" stroke="#111" stroke-width="2.6" stroke-linecap="butt"/>
<line x1="304.0" y1="447.0" x2="304.0" y2="461.0" stroke="#111" stroke-width="2.6" stroke-linecap="butt"/>
<line x1="307.5" y1="448.0" x2="307.5" y2="466.0" stroke="#111" stroke-width="2.6" stroke-linecap="butt"/>
<polyline points="155.8,422.5 171.7,417.5 185.0,416.3 196.7,415.8 208.3,416.7 225.0,420.0 226.0,420.4 227.6,422.1 232.8,422.1 232.8,424.2 238.0,424.2 238.0,426.3 243.2,426.3 243.2,428.9 248.4,428.9 248.4,431.5 253.6,431.5 253.6,434.1 258.8,434.1 258.8,436.7 264.0,436.7 264.0,439.8 269.2,439.8 269.2,443.0 274.4,443.0 274.4,446.0 279.6,446.0 279.6,448.4 284.8,448.4 284.8,450.1 290.0,450.1 290.0,451.7 295.2,451.7 295.2,453.2 300.4,453.2 300.4,454.5 305.6,454.5 305.6,455.5 310.0,455.5" fill="none" stroke="#f5621e" stroke-width="3.4" stroke-linejoin="round" />
<polyline points="341.3,446.3 351.0,446.0 355.0,443.7 361.7,441.7 367.0,439.0 375.0,437.0 383.0,436.3 388.3,432.3 396.3,431.0 406.7,430.8 406.7,425.8 428.3,425.8 428.3,419.2 450.0,419.2 450.0,410.0 494.2,410.0" fill="none" stroke="#f4602a" stroke-width="3.2" stroke-linejoin="round" />
<polyline points="341.3,446.3 351.0,446.0 355.0,443.7 361.7,441.7 367.0,439.0 375.0,437.0 383.0,436.3 388.3,432.3 396.3,431.0 406.7,430.8 406.7,425.8 428.3,425.8 428.3,419.2 450.0,419.2 450.0,410.0 494.2,410.0" fill="none" stroke="#e8141a" stroke-width="3.0" stroke-linejoin="round" stroke-linecap="round" stroke-dasharray="0 5"/>
<line x1="341.0" y1="453.0" x2="355.7" y2="453.0" stroke="#000" stroke-width="2.8" stroke-linecap="butt"/>
<line x1="348.3" y1="447.7" x2="348.3" y2="463.0" stroke="#000" stroke-width="2.8" stroke-linecap="butt"/>
<line x1="355.0" y1="447.0" x2="365.7" y2="447.0" stroke="#000" stroke-width="2.8" stroke-linecap="butt"/>
<line x1="360.3" y1="441.0" x2="360.3" y2="455.0" stroke="#000" stroke-width="2.8" stroke-linecap="butt"/>
<line x1="364.3" y1="438.3" x2="375.0" y2="438.3" stroke="#000" stroke-width="2.8" stroke-linecap="butt"/>
<line x1="369.7" y1="433.0" x2="369.7" y2="445.0" stroke="#000" stroke-width="2.8" stroke-linecap="butt"/>
<line x1="375.0" y1="436.3" x2="388.0" y2="436.3" stroke="#000" stroke-width="2.8" stroke-linecap="butt"/>
<line x1="381.7" y1="431.0" x2="381.7" y2="442.3" stroke="#000" stroke-width="2.8" stroke-linecap="butt"/>
<line x1="388.3" y1="439.0" x2="408.0" y2="439.0" stroke="#000" stroke-width="2.8" stroke-linecap="butt"/>
<line x1="398.3" y1="434.3" x2="398.3" y2="447.7" stroke="#000" stroke-width="2.8" stroke-linecap="butt"/>
<line x1="413.0" y1="425.8" x2="424.0" y2="425.8" stroke="#000" stroke-width="2.8" stroke-linecap="butt"/>
<line x1="418.3" y1="420.8" x2="418.3" y2="433.3" stroke="#000" stroke-width="2.8" stroke-linecap="butt"/>
<line x1="427.5" y1="410.8" x2="450.0" y2="410.8" stroke="#000" stroke-width="2.8" stroke-linecap="butt"/>
<line x1="440.0" y1="405.0" x2="440.0" y2="417.5" stroke="#000" stroke-width="2.8" stroke-linecap="butt"/>
<line x1="450.0" y1="401.7" x2="494.2" y2="401.7" stroke="#000" stroke-width="2.8" stroke-linecap="butt"/>
<line x1="474.7" y1="393.3" x2="474.7" y2="413.3" stroke="#000" stroke-width="2.8" stroke-linecap="butt"/>
<line x1="496.0" y1="390.2" x2="597.0" y2="390.2" stroke="#f4552a" stroke-width="2.8" stroke-linecap="butt"/>
<line x1="496" y1="390.2" x2="597" y2="390.2" stroke="#e8141a" stroke-width="2.8" stroke-dasharray="5 2.5"/>
<line x1="496.0" y1="417.3" x2="597.0" y2="417.3" stroke="#000" stroke-width="2.6" stroke-linecap="butt"/>
<line x1="556.6" y1="403.8" x2="556.6" y2="451.0" stroke="#000" stroke-width="2.6" stroke-linecap="butt"/>
</g>
<line x1="84.8" y1="11.5" x2="84.8" y2="16.3" stroke="#000" stroke-width="2.3" stroke-linecap="round"/>
<line x1="84.8" y1="241.3" x2="84.8" y2="236.5" stroke="#000" stroke-width="2.3" stroke-linecap="round"/>
<line x1="94.7" y1="11.5" x2="94.7" y2="19.8" stroke="#000" stroke-width="2.3" stroke-linecap="round"/>
<line x1="94.7" y1="241.3" x2="94.7" y2="233.0" stroke="#000" stroke-width="2.3" stroke-linecap="round"/>
<line x1="159.7" y1="11.5" x2="159.7" y2="16.3" stroke="#000" stroke-width="2.3" stroke-linecap="round"/>
<line x1="159.7" y1="241.3" x2="159.7" y2="236.5" stroke="#000" stroke-width="2.3" stroke-linecap="round"/>
<line x1="197.7" y1="11.5" x2="197.7" y2="16.3" stroke="#000" stroke-width="2.3" stroke-linecap="round"/>
<line x1="197.7" y1="241.3" x2="197.7" y2="236.5" stroke="#000" stroke-width="2.3" stroke-linecap="round"/>
<line x1="224.6" y1="11.5" x2="224.6" y2="16.3" stroke="#000" stroke-width="2.3" stroke-linecap="round"/>
<line x1="224.6" y1="241.3" x2="224.6" y2="236.5" stroke="#000" stroke-width="2.3" stroke-linecap="round"/>
<line x1="245.5" y1="11.5" x2="245.5" y2="16.3" stroke="#000" stroke-width="2.3" stroke-linecap="round"/>
<line x1="245.5" y1="241.3" x2="245.5" y2="236.5" stroke="#000" stroke-width="2.3" stroke-linecap="round"/>
<line x1="262.6" y1="11.5" x2="262.6" y2="16.3" stroke="#000" stroke-width="2.3" stroke-linecap="round"/>
<line x1="262.6" y1="241.3" x2="262.6" y2="236.5" stroke="#000" stroke-width="2.3" stroke-linecap="round"/>
<line x1="277.1" y1="11.5" x2="277.1" y2="16.3" stroke="#000" stroke-width="2.3" stroke-linecap="round"/>
<line x1="277.1" y1="241.3" x2="277.1" y2="236.5" stroke="#000" stroke-width="2.3" stroke-linecap="round"/>
<line x1="289.6" y1="11.5" x2="289.6" y2="16.3" stroke="#000" stroke-width="2.3" stroke-linecap="round"/>
<line x1="289.6" y1="241.3" x2="289.6" y2="236.5" stroke="#000" stroke-width="2.3" stroke-linecap="round"/>
<line x1="300.6" y1="11.5" x2="300.6" y2="16.3" stroke="#000" stroke-width="2.3" stroke-linecap="round"/>
<line x1="300.6" y1="241.3" x2="300.6" y2="236.5" stroke="#000" stroke-width="2.3" stroke-linecap="round"/>
<line x1="310.5" y1="11.5" x2="310.5" y2="19.8" stroke="#000" stroke-width="2.3" stroke-linecap="round"/>
<line x1="310.5" y1="241.3" x2="310.5" y2="233.0" stroke="#000" stroke-width="2.3" stroke-linecap="round"/>
<line x1="375.5" y1="11.5" x2="375.5" y2="16.3" stroke="#000" stroke-width="2.3" stroke-linecap="round"/>
<line x1="375.5" y1="241.3" x2="375.5" y2="236.5" stroke="#000" stroke-width="2.3" stroke-linecap="round"/>
<line x1="413.5" y1="11.5" x2="413.5" y2="16.3" stroke="#000" stroke-width="2.3" stroke-linecap="round"/>
<line x1="413.5" y1="241.3" x2="413.5" y2="236.5" stroke="#000" stroke-width="2.3" stroke-linecap="round"/>
<line x1="440.4" y1="11.5" x2="440.4" y2="16.3" stroke="#000" stroke-width="2.3" stroke-linecap="round"/>
<line x1="440.4" y1="241.3" x2="440.4" y2="236.5" stroke="#000" stroke-width="2.3" stroke-linecap="round"/>
<line x1="461.3" y1="11.5" x2="461.3" y2="16.3" stroke="#000" stroke-width="2.3" stroke-linecap="round"/>
<line x1="461.3" y1="241.3" x2="461.3" y2="236.5" stroke="#000" stroke-width="2.3" stroke-linecap="round"/>
<line x1="478.4" y1="11.5" x2="478.4" y2="16.3" stroke="#000" stroke-width="2.3" stroke-linecap="round"/>
<line x1="478.4" y1="241.3" x2="478.4" y2="236.5" stroke="#000" stroke-width="2.3" stroke-linecap="round"/>
<line x1="492.9" y1="11.5" x2="492.9" y2="16.3" stroke="#000" stroke-width="2.3" stroke-linecap="round"/>
<line x1="492.9" y1="241.3" x2="492.9" y2="236.5" stroke="#000" stroke-width="2.3" stroke-linecap="round"/>
<line x1="505.4" y1="11.5" x2="505.4" y2="16.3" stroke="#000" stroke-width="2.3" stroke-linecap="round"/>
<line x1="505.4" y1="241.3" x2="505.4" y2="236.5" stroke="#000" stroke-width="2.3" stroke-linecap="round"/>
<line x1="516.4" y1="11.5" x2="516.4" y2="16.3" stroke="#000" stroke-width="2.3" stroke-linecap="round"/>
<line x1="516.4" y1="241.3" x2="516.4" y2="236.5" stroke="#000" stroke-width="2.3" stroke-linecap="round"/>
<line x1="526.3" y1="11.5" x2="526.3" y2="19.8" stroke="#000" stroke-width="2.3" stroke-linecap="round"/>
<line x1="526.3" y1="241.3" x2="526.3" y2="233.0" stroke="#000" stroke-width="2.3" stroke-linecap="round"/>
<line x1="591.3" y1="11.5" x2="591.3" y2="16.3" stroke="#000" stroke-width="2.3" stroke-linecap="round"/>
<line x1="591.3" y1="241.3" x2="591.3" y2="236.5" stroke="#000" stroke-width="2.3" stroke-linecap="round"/>
<line x1="84.8" y1="242.3" x2="84.8" y2="247.1" stroke="#000" stroke-width="2.3" stroke-linecap="round"/>
<line x1="84.8" y1="353.3" x2="84.8" y2="348.5" stroke="#000" stroke-width="2.3" stroke-linecap="round"/>
<line x1="94.7" y1="242.3" x2="94.7" y2="250.6" stroke="#000" stroke-width="2.3" stroke-linecap="round"/>
<line x1="94.7" y1="353.3" x2="94.7" y2="345.0" stroke="#000" stroke-width="2.3" stroke-linecap="round"/>
<line x1="159.7" y1="242.3" x2="159.7" y2="247.1" stroke="#000" stroke-width="2.3" stroke-linecap="round"/>
<line x1="159.7" y1="353.3" x2="159.7" y2="348.5" stroke="#000" stroke-width="2.3" stroke-linecap="round"/>
<line x1="197.7" y1="242.3" x2="197.7" y2="247.1" stroke="#000" stroke-width="2.3" stroke-linecap="round"/>
<line x1="197.7" y1="353.3" x2="197.7" y2="348.5" stroke="#000" stroke-width="2.3" stroke-linecap="round"/>
<line x1="224.6" y1="242.3" x2="224.6" y2="247.1" stroke="#000" stroke-width="2.3" stroke-linecap="round"/>
<line x1="224.6" y1="353.3" x2="224.6" y2="348.5" stroke="#000" stroke-width="2.3" stroke-linecap="round"/>
<line x1="245.5" y1="242.3" x2="245.5" y2="247.1" stroke="#000" stroke-width="2.3" stroke-linecap="round"/>
<line x1="245.5" y1="353.3" x2="245.5" y2="348.5" stroke="#000" stroke-width="2.3" stroke-linecap="round"/>
<line x1="262.6" y1="242.3" x2="262.6" y2="247.1" stroke="#000" stroke-width="2.3" stroke-linecap="round"/>
<line x1="262.6" y1="353.3" x2="262.6" y2="348.5" stroke="#000" stroke-width="2.3" stroke-linecap="round"/>
<line x1="277.1" y1="242.3" x2="277.1" y2="247.1" stroke="#000" stroke-width="2.3" stroke-linecap="round"/>
<line x1="277.1" y1="353.3" x2="277.1" y2="348.5" stroke="#000" stroke-width="2.3" stroke-linecap="round"/>
<line x1="289.6" y1="242.3" x2="289.6" y2="247.1" stroke="#000" stroke-width="2.3" stroke-linecap="round"/>
<line x1="289.6" y1="353.3" x2="289.6" y2="348.5" stroke="#000" stroke-width="2.3" stroke-linecap="round"/>
<line x1="300.6" y1="242.3" x2="300.6" y2="247.1" stroke="#000" stroke-width="2.3" stroke-linecap="round"/>
<line x1="300.6" y1="353.3" x2="300.6" y2="348.5" stroke="#000" stroke-width="2.3" stroke-linecap="round"/>
<line x1="310.5" y1="242.3" x2="310.5" y2="250.6" stroke="#000" stroke-width="2.3" stroke-linecap="round"/>
<line x1="310.5" y1="353.3" x2="310.5" y2="345.0" stroke="#000" stroke-width="2.3" stroke-linecap="round"/>
<line x1="375.5" y1="242.3" x2="375.5" y2="247.1" stroke="#000" stroke-width="2.3" stroke-linecap="round"/>
<line x1="375.5" y1="353.3" x2="375.5" y2="348.5" stroke="#000" stroke-width="2.3" stroke-linecap="round"/>
<line x1="413.5" y1="242.3" x2="413.5" y2="247.1" stroke="#000" stroke-width="2.3" stroke-linecap="round"/>
<line x1="413.5" y1="353.3" x2="413.5" y2="348.5" stroke="#000" stroke-width="2.3" stroke-linecap="round"/>
<line x1="440.4" y1="242.3" x2="440.4" y2="247.1" stroke="#000" stroke-width="2.3" stroke-linecap="round"/>
<line x1="440.4" y1="353.3" x2="440.4" y2="348.5" stroke="#000" stroke-width="2.3" stroke-linecap="round"/>
<line x1="461.3" y1="242.3" x2="461.3" y2="247.1" stroke="#000" stroke-width="2.3" stroke-linecap="round"/>
<line x1="461.3" y1="353.3" x2="461.3" y2="348.5" stroke="#000" stroke-width="2.3" stroke-linecap="round"/>
<line x1="478.4" y1="242.3" x2="478.4" y2="247.1" stroke="#000" stroke-width="2.3" stroke-linecap="round"/>
<line x1="478.4" y1="353.3" x2="478.4" y2="348.5" stroke="#000" stroke-width="2.3" stroke-linecap="round"/>
<line x1="492.9" y1="242.3" x2="492.9" y2="247.1" stroke="#000" stroke-width="2.3" stroke-linecap="round"/>
<line x1="492.9" y1="353.3" x2="492.9" y2="348.5" stroke="#000" stroke-width="2.3" stroke-linecap="round"/>
<line x1="505.4" y1="242.3" x2="505.4" y2="247.1" stroke="#000" stroke-width="2.3" stroke-linecap="round"/>
<line x1="505.4" y1="353.3" x2="505.4" y2="348.5" stroke="#000" stroke-width="2.3" stroke-linecap="round"/>
<line x1="516.4" y1="242.3" x2="516.4" y2="247.1" stroke="#000" stroke-width="2.3" stroke-linecap="round"/>
<line x1="516.4" y1="353.3" x2="516.4" y2="348.5" stroke="#000" stroke-width="2.3" stroke-linecap="round"/>
<line x1="526.3" y1="242.3" x2="526.3" y2="250.6" stroke="#000" stroke-width="2.3" stroke-linecap="round"/>
<line x1="526.3" y1="353.3" x2="526.3" y2="345.0" stroke="#000" stroke-width="2.3" stroke-linecap="round"/>
<line x1="591.3" y1="242.3" x2="591.3" y2="247.1" stroke="#000" stroke-width="2.3" stroke-linecap="round"/>
<line x1="591.3" y1="353.3" x2="591.3" y2="348.5" stroke="#000" stroke-width="2.3" stroke-linecap="round"/>
<line x1="84.8" y1="358.6" x2="84.8" y2="363.4" stroke="#000" stroke-width="2.3" stroke-linecap="round"/>
<line x1="84.8" y1="590.5" x2="84.8" y2="585.7" stroke="#000" stroke-width="2.3" stroke-linecap="round"/>
<line x1="94.7" y1="358.6" x2="94.7" y2="366.9" stroke="#000" stroke-width="2.3" stroke-linecap="round"/>
<line x1="94.7" y1="590.5" x2="94.7" y2="582.2" stroke="#000" stroke-width="2.3" stroke-linecap="round"/>
<line x1="159.7" y1="358.6" x2="159.7" y2="363.4" stroke="#000" stroke-width="2.3" stroke-linecap="round"/>
<line x1="159.7" y1="590.5" x2="159.7" y2="585.7" stroke="#000" stroke-width="2.3" stroke-linecap="round"/>
<line x1="197.7" y1="358.6" x2="197.7" y2="363.4" stroke="#000" stroke-width="2.3" stroke-linecap="round"/>
<line x1="197.7" y1="590.5" x2="197.7" y2="585.7" stroke="#000" stroke-width="2.3" stroke-linecap="round"/>
<line x1="224.6" y1="358.6" x2="224.6" y2="363.4" stroke="#000" stroke-width="2.3" stroke-linecap="round"/>
<line x1="224.6" y1="590.5" x2="224.6" y2="585.7" stroke="#000" stroke-width="2.3" stroke-linecap="round"/>
<line x1="245.5" y1="358.6" x2="245.5" y2="363.4" stroke="#000" stroke-width="2.3" stroke-linecap="round"/>
<line x1="245.5" y1="590.5" x2="245.5" y2="585.7" stroke="#000" stroke-width="2.3" stroke-linecap="round"/>
<line x1="262.6" y1="358.6" x2="262.6" y2="363.4" stroke="#000" stroke-width="2.3" stroke-linecap="round"/>
<line x1="262.6" y1="590.5" x2="262.6" y2="585.7" stroke="#000" stroke-width="2.3" stroke-linecap="round"/>
<line x1="277.1" y1="358.6" x2="277.1" y2="363.4" stroke="#000" stroke-width="2.3" stroke-linecap="round"/>
<line x1="277.1" y1="590.5" x2="277.1" y2="585.7" stroke="#000" stroke-width="2.3" stroke-linecap="round"/>
<line x1="289.6" y1="358.6" x2="289.6" y2="363.4" stroke="#000" stroke-width="2.3" stroke-linecap="round"/>
<line x1="289.6" y1="590.5" x2="289.6" y2="585.7" stroke="#000" stroke-width="2.3" stroke-linecap="round"/>
<line x1="300.6" y1="358.6" x2="300.6" y2="363.4" stroke="#000" stroke-width="2.3" stroke-linecap="round"/>
<line x1="300.6" y1="590.5" x2="300.6" y2="585.7" stroke="#000" stroke-width="2.3" stroke-linecap="round"/>
<line x1="310.5" y1="358.6" x2="310.5" y2="366.9" stroke="#000" stroke-width="2.3" stroke-linecap="round"/>
<line x1="310.5" y1="590.5" x2="310.5" y2="582.2" stroke="#000" stroke-width="2.3" stroke-linecap="round"/>
<line x1="375.5" y1="358.6" x2="375.5" y2="363.4" stroke="#000" stroke-width="2.3" stroke-linecap="round"/>
<line x1="375.5" y1="590.5" x2="375.5" y2="585.7" stroke="#000" stroke-width="2.3" stroke-linecap="round"/>
<line x1="413.5" y1="358.6" x2="413.5" y2="363.4" stroke="#000" stroke-width="2.3" stroke-linecap="round"/>
<line x1="413.5" y1="590.5" x2="413.5" y2="585.7" stroke="#000" stroke-width="2.3" stroke-linecap="round"/>
<line x1="440.4" y1="358.6" x2="440.4" y2="363.4" stroke="#000" stroke-width="2.3" stroke-linecap="round"/>
<line x1="440.4" y1="590.5" x2="440.4" y2="585.7" stroke="#000" stroke-width="2.3" stroke-linecap="round"/>
<line x1="461.3" y1="358.6" x2="461.3" y2="363.4" stroke="#000" stroke-width="2.3" stroke-linecap="round"/>
<line x1="461.3" y1="590.5" x2="461.3" y2="585.7" stroke="#000" stroke-width="2.3" stroke-linecap="round"/>
<line x1="478.4" y1="358.6" x2="478.4" y2="363.4" stroke="#000" stroke-width="2.3" stroke-linecap="round"/>
<line x1="478.4" y1="590.5" x2="478.4" y2="585.7" stroke="#000" stroke-width="2.3" stroke-linecap="round"/>
<line x1="492.9" y1="358.6" x2="492.9" y2="363.4" stroke="#000" stroke-width="2.3" stroke-linecap="round"/>
<line x1="492.9" y1="590.5" x2="492.9" y2="585.7" stroke="#000" stroke-width="2.3" stroke-linecap="round"/>
<line x1="505.4" y1="358.6" x2="505.4" y2="363.4" stroke="#000" stroke-width="2.3" stroke-linecap="round"/>
<line x1="505.4" y1="590.5" x2="505.4" y2="585.7" stroke="#000" stroke-width="2.3" stroke-linecap="round"/>
<line x1="516.4" y1="358.6" x2="516.4" y2="363.4" stroke="#000" stroke-width="2.3" stroke-linecap="round"/>
<line x1="516.4" y1="590.5" x2="516.4" y2="585.7" stroke="#000" stroke-width="2.3" stroke-linecap="round"/>
<line x1="526.3" y1="358.6" x2="526.3" y2="366.9" stroke="#000" stroke-width="2.3" stroke-linecap="round"/>
<line x1="526.3" y1="590.5" x2="526.3" y2="582.2" stroke="#000" stroke-width="2.3" stroke-linecap="round"/>
<line x1="591.3" y1="358.6" x2="591.3" y2="363.4" stroke="#000" stroke-width="2.3" stroke-linecap="round"/>
<line x1="591.3" y1="590.5" x2="591.3" y2="585.7" stroke="#000" stroke-width="2.3" stroke-linecap="round"/>
<line x1="73.8" y1="241.5" x2="82.3" y2="241.5" stroke="#000" stroke-width="2.3" stroke-linecap="round"/>
<line x1="596.0" y1="241.5" x2="587.5" y2="241.5" stroke="#000" stroke-width="2.3" stroke-linecap="round"/>
<line x1="73.8" y1="229.9" x2="78.6" y2="229.9" stroke="#000" stroke-width="2.3" stroke-linecap="round"/>
<line x1="596.0" y1="229.9" x2="591.2" y2="229.9" stroke="#000" stroke-width="2.3" stroke-linecap="round"/>
<line x1="73.8" y1="223.2" x2="78.6" y2="223.2" stroke="#000" stroke-width="2.3" stroke-linecap="round"/>
<line x1="596.0" y1="223.2" x2="591.2" y2="223.2" stroke="#000" stroke-width="2.3" stroke-linecap="round"/>
<line x1="73.8" y1="218.4" x2="78.6" y2="218.4" stroke="#000" stroke-width="2.3" stroke-linecap="round"/>
<line x1="596.0" y1="218.4" x2="591.2" y2="218.4" stroke="#000" stroke-width="2.3" stroke-linecap="round"/>
<line x1="73.8" y1="214.7" x2="78.6" y2="214.7" stroke="#000" stroke-width="2.3" stroke-linecap="round"/>
<line x1="596.0" y1="214.7" x2="591.2" y2="214.7" stroke="#000" stroke-width="2.3" stroke-linecap="round"/>
<line x1="73.8" y1="211.7" x2="78.6" y2="211.7" stroke="#000" stroke-width="2.3" stroke-linecap="round"/>
<line x1="596.0" y1="211.7" x2="591.2" y2="211.7" stroke="#000" stroke-width="2.3" stroke-linecap="round"/>
<line x1="73.8" y1="209.1" x2="78.6" y2="209.1" stroke="#000" stroke-width="2.3" stroke-linecap="round"/>
<line x1="596.0" y1="209.1" x2="591.2" y2="209.1" stroke="#000" stroke-width="2.3" stroke-linecap="round"/>
<line x1="73.8" y1="206.9" x2="78.6" y2="206.9" stroke="#000" stroke-width="2.3" stroke-linecap="round"/>
<line x1="596.0" y1="206.9" x2="591.2" y2="206.9" stroke="#000" stroke-width="2.3" stroke-linecap="round"/>
<line x1="73.8" y1="204.9" x2="78.6" y2="204.9" stroke="#000" stroke-width="2.3" stroke-linecap="round"/>
<line x1="596.0" y1="204.9" x2="591.2" y2="204.9" stroke="#000" stroke-width="2.3" stroke-linecap="round"/>
<line x1="73.8" y1="203.1" x2="82.3" y2="203.1" stroke="#000" stroke-width="2.3" stroke-linecap="round"/>
<line x1="596.0" y1="203.1" x2="587.5" y2="203.1" stroke="#000" stroke-width="2.3" stroke-linecap="round"/>
<line x1="73.8" y1="191.6" x2="78.6" y2="191.6" stroke="#000" stroke-width="2.3" stroke-linecap="round"/>
<line x1="596.0" y1="191.6" x2="591.2" y2="191.6" stroke="#000" stroke-width="2.3" stroke-linecap="round"/>
<line x1="73.8" y1="184.9" x2="78.6" y2="184.9" stroke="#000" stroke-width="2.3" stroke-linecap="round"/>
<line x1="596.0" y1="184.9" x2="591.2" y2="184.9" stroke="#000" stroke-width="2.3" stroke-linecap="round"/>
<line x1="73.8" y1="180.1" x2="78.6" y2="180.1" stroke="#000" stroke-width="2.3" stroke-linecap="round"/>
<line x1="596.0" y1="180.1" x2="591.2" y2="180.1" stroke="#000" stroke-width="2.3" stroke-linecap="round"/>
<line x1="73.8" y1="176.4" x2="78.6" y2="176.4" stroke="#000" stroke-width="2.3" stroke-linecap="round"/>
<line x1="596.0" y1="176.4" x2="591.2" y2="176.4" stroke="#000" stroke-width="2.3" stroke-linecap="round"/>
<line x1="73.8" y1="173.3" x2="78.6" y2="173.3" stroke="#000" stroke-width="2.3" stroke-linecap="round"/>
<line x1="596.0" y1="173.3" x2="591.2" y2="173.3" stroke="#000" stroke-width="2.3" stroke-linecap="round"/>
<line x1="73.8" y1="170.8" x2="78.6" y2="170.8" stroke="#000" stroke-width="2.3" stroke-linecap="round"/>
<line x1="596.0" y1="170.8" x2="591.2" y2="170.8" stroke="#000" stroke-width="2.3" stroke-linecap="round"/>
<line x1="73.8" y1="168.5" x2="78.6" y2="168.5" stroke="#000" stroke-width="2.3" stroke-linecap="round"/>
<line x1="596.0" y1="168.5" x2="591.2" y2="168.5" stroke="#000" stroke-width="2.3" stroke-linecap="round"/>
<line x1="73.8" y1="166.6" x2="78.6" y2="166.6" stroke="#000" stroke-width="2.3" stroke-linecap="round"/>
<line x1="596.0" y1="166.6" x2="591.2" y2="166.6" stroke="#000" stroke-width="2.3" stroke-linecap="round"/>
<line x1="73.8" y1="164.8" x2="82.3" y2="164.8" stroke="#000" stroke-width="2.3" stroke-linecap="round"/>
<line x1="596.0" y1="164.8" x2="587.5" y2="164.8" stroke="#000" stroke-width="2.3" stroke-linecap="round"/>
<line x1="73.8" y1="153.3" x2="78.6" y2="153.3" stroke="#000" stroke-width="2.3" stroke-linecap="round"/>
<line x1="596.0" y1="153.3" x2="591.2" y2="153.3" stroke="#000" stroke-width="2.3" stroke-linecap="round"/>
<line x1="73.8" y1="146.5" x2="78.6" y2="146.5" stroke="#000" stroke-width="2.3" stroke-linecap="round"/>
<line x1="596.0" y1="146.5" x2="591.2" y2="146.5" stroke="#000" stroke-width="2.3" stroke-linecap="round"/>
<line x1="73.8" y1="141.7" x2="78.6" y2="141.7" stroke="#000" stroke-width="2.3" stroke-linecap="round"/>
<line x1="596.0" y1="141.7" x2="591.2" y2="141.7" stroke="#000" stroke-width="2.3" stroke-linecap="round"/>
<line x1="73.8" y1="138.0" x2="78.6" y2="138.0" stroke="#000" stroke-width="2.3" stroke-linecap="round"/>
<line x1="596.0" y1="138.0" x2="591.2" y2="138.0" stroke="#000" stroke-width="2.3" stroke-linecap="round"/>
<line x1="73.8" y1="135.0" x2="78.6" y2="135.0" stroke="#000" stroke-width="2.3" stroke-linecap="round"/>
<line x1="596.0" y1="135.0" x2="591.2" y2="135.0" stroke="#000" stroke-width="2.3" stroke-linecap="round"/>
<line x1="73.8" y1="132.4" x2="78.6" y2="132.4" stroke="#000" stroke-width="2.3" stroke-linecap="round"/>
<line x1="596.0" y1="132.4" x2="591.2" y2="132.4" stroke="#000" stroke-width="2.3" stroke-linecap="round"/>
<line x1="73.8" y1="130.2" x2="78.6" y2="130.2" stroke="#000" stroke-width="2.3" stroke-linecap="round"/>
<line x1="596.0" y1="130.2" x2="591.2" y2="130.2" stroke="#000" stroke-width="2.3" stroke-linecap="round"/>
<line x1="73.8" y1="128.2" x2="78.6" y2="128.2" stroke="#000" stroke-width="2.3" stroke-linecap="round"/>
<line x1="596.0" y1="128.2" x2="591.2" y2="128.2" stroke="#000" stroke-width="2.3" stroke-linecap="round"/>
<line x1="73.8" y1="126.5" x2="82.3" y2="126.5" stroke="#000" stroke-width="2.3" stroke-linecap="round"/>
<line x1="596.0" y1="126.5" x2="587.5" y2="126.5" stroke="#000" stroke-width="2.3" stroke-linecap="round"/>
<line x1="73.8" y1="115.0" x2="78.6" y2="115.0" stroke="#000" stroke-width="2.3" stroke-linecap="round"/>
<line x1="596.0" y1="115.0" x2="591.2" y2="115.0" stroke="#000" stroke-width="2.3" stroke-linecap="round"/>
<line x1="73.8" y1="108.2" x2="78.6" y2="108.2" stroke="#000" stroke-width="2.3" stroke-linecap="round"/>
<line x1="596.0" y1="108.2" x2="591.2" y2="108.2" stroke="#000" stroke-width="2.3" stroke-linecap="round"/>
<line x1="73.8" y1="103.4" x2="78.6" y2="103.4" stroke="#000" stroke-width="2.3" stroke-linecap="round"/>
<line x1="596.0" y1="103.4" x2="591.2" y2="103.4" stroke="#000" stroke-width="2.3" stroke-linecap="round"/>
<line x1="73.8" y1="99.7" x2="78.6" y2="99.7" stroke="#000" stroke-width="2.3" stroke-linecap="round"/>
<line x1="596.0" y1="99.7" x2="591.2" y2="99.7" stroke="#000" stroke-width="2.3" stroke-linecap="round"/>
<line x1="73.8" y1="96.7" x2="78.6" y2="96.7" stroke="#000" stroke-width="2.3" stroke-linecap="round"/>
<line x1="596.0" y1="96.7" x2="591.2" y2="96.7" stroke="#000" stroke-width="2.3" stroke-linecap="round"/>
<line x1="73.8" y1="94.1" x2="78.6" y2="94.1" stroke="#000" stroke-width="2.3" stroke-linecap="round"/>
<line x1="596.0" y1="94.1" x2="591.2" y2="94.1" stroke="#000" stroke-width="2.3" stroke-linecap="round"/>
<line x1="73.8" y1="91.9" x2="78.6" y2="91.9" stroke="#000" stroke-width="2.3" stroke-linecap="round"/>
<line x1="596.0" y1="91.9" x2="591.2" y2="91.9" stroke="#000" stroke-width="2.3" stroke-linecap="round"/>
<line x1="73.8" y1="89.9" x2="78.6" y2="89.9" stroke="#000" stroke-width="2.3" stroke-linecap="round"/>
<line x1="596.0" y1="89.9" x2="591.2" y2="89.9" stroke="#000" stroke-width="2.3" stroke-linecap="round"/>
<line x1="73.8" y1="88.2" x2="82.3" y2="88.2" stroke="#000" stroke-width="2.3" stroke-linecap="round"/>
<line x1="596.0" y1="88.2" x2="587.5" y2="88.2" stroke="#000" stroke-width="2.3" stroke-linecap="round"/>
<line x1="73.8" y1="76.6" x2="78.6" y2="76.6" stroke="#000" stroke-width="2.3" stroke-linecap="round"/>
<line x1="596.0" y1="76.6" x2="591.2" y2="76.6" stroke="#000" stroke-width="2.3" stroke-linecap="round"/>
<line x1="73.8" y1="69.9" x2="78.6" y2="69.9" stroke="#000" stroke-width="2.3" stroke-linecap="round"/>
<line x1="596.0" y1="69.9" x2="591.2" y2="69.9" stroke="#000" stroke-width="2.3" stroke-linecap="round"/>
<line x1="73.8" y1="65.1" x2="78.6" y2="65.1" stroke="#000" stroke-width="2.3" stroke-linecap="round"/>
<line x1="596.0" y1="65.1" x2="591.2" y2="65.1" stroke="#000" stroke-width="2.3" stroke-linecap="round"/>
<line x1="73.8" y1="61.4" x2="78.6" y2="61.4" stroke="#000" stroke-width="2.3" stroke-linecap="round"/>
<line x1="596.0" y1="61.4" x2="591.2" y2="61.4" stroke="#000" stroke-width="2.3" stroke-linecap="round"/>
<line x1="73.8" y1="58.3" x2="78.6" y2="58.3" stroke="#000" stroke-width="2.3" stroke-linecap="round"/>
<line x1="596.0" y1="58.3" x2="591.2" y2="58.3" stroke="#000" stroke-width="2.3" stroke-linecap="round"/>
<line x1="73.8" y1="55.8" x2="78.6" y2="55.8" stroke="#000" stroke-width="2.3" stroke-linecap="round"/>
<line x1="596.0" y1="55.8" x2="591.2" y2="55.8" stroke="#000" stroke-width="2.3" stroke-linecap="round"/>
<line x1="73.8" y1="53.5" x2="78.6" y2="53.5" stroke="#000" stroke-width="2.3" stroke-linecap="round"/>
<line x1="596.0" y1="53.5" x2="591.2" y2="53.5" stroke="#000" stroke-width="2.3" stroke-linecap="round"/>
<line x1="73.8" y1="51.6" x2="78.6" y2="51.6" stroke="#000" stroke-width="2.3" stroke-linecap="round"/>
<line x1="596.0" y1="51.6" x2="591.2" y2="51.6" stroke="#000" stroke-width="2.3" stroke-linecap="round"/>
<line x1="73.8" y1="49.8" x2="82.3" y2="49.8" stroke="#000" stroke-width="2.3" stroke-linecap="round"/>
<line x1="596.0" y1="49.8" x2="587.5" y2="49.8" stroke="#000" stroke-width="2.3" stroke-linecap="round"/>
<line x1="73.8" y1="38.3" x2="78.6" y2="38.3" stroke="#000" stroke-width="2.3" stroke-linecap="round"/>
<line x1="596.0" y1="38.3" x2="591.2" y2="38.3" stroke="#000" stroke-width="2.3" stroke-linecap="round"/>
<line x1="73.8" y1="31.5" x2="78.6" y2="31.5" stroke="#000" stroke-width="2.3" stroke-linecap="round"/>
<line x1="596.0" y1="31.5" x2="591.2" y2="31.5" stroke="#000" stroke-width="2.3" stroke-linecap="round"/>
<line x1="73.8" y1="26.8" x2="78.6" y2="26.8" stroke="#000" stroke-width="2.3" stroke-linecap="round"/>
<line x1="596.0" y1="26.8" x2="591.2" y2="26.8" stroke="#000" stroke-width="2.3" stroke-linecap="round"/>
<line x1="73.8" y1="23.0" x2="78.6" y2="23.0" stroke="#000" stroke-width="2.3" stroke-linecap="round"/>
<line x1="596.0" y1="23.0" x2="591.2" y2="23.0" stroke="#000" stroke-width="2.3" stroke-linecap="round"/>
<line x1="73.8" y1="20.0" x2="78.6" y2="20.0" stroke="#000" stroke-width="2.3" stroke-linecap="round"/>
<line x1="596.0" y1="20.0" x2="591.2" y2="20.0" stroke="#000" stroke-width="2.3" stroke-linecap="round"/>
<line x1="73.8" y1="17.4" x2="78.6" y2="17.4" stroke="#000" stroke-width="2.3" stroke-linecap="round"/>
<line x1="596.0" y1="17.4" x2="591.2" y2="17.4" stroke="#000" stroke-width="2.3" stroke-linecap="round"/>
<line x1="73.8" y1="15.2" x2="78.6" y2="15.2" stroke="#000" stroke-width="2.3" stroke-linecap="round"/>
<line x1="596.0" y1="15.2" x2="591.2" y2="15.2" stroke="#000" stroke-width="2.3" stroke-linecap="round"/>
<line x1="73.8" y1="13.3" x2="78.6" y2="13.3" stroke="#000" stroke-width="2.3" stroke-linecap="round"/>
<line x1="596.0" y1="13.3" x2="591.2" y2="13.3" stroke="#000" stroke-width="2.3" stroke-linecap="round"/>
<line x1="73.8" y1="11.5" x2="82.3" y2="11.5" stroke="#000" stroke-width="2.3" stroke-linecap="round"/>
<line x1="596.0" y1="11.5" x2="587.5" y2="11.5" stroke="#000" stroke-width="2.3" stroke-linecap="round"/>
<line x1="73.8" y1="589.6" x2="82.3" y2="589.6" stroke="#000" stroke-width="2.3" stroke-linecap="round"/>
<line x1="596.0" y1="589.6" x2="587.5" y2="589.6" stroke="#000" stroke-width="2.3" stroke-linecap="round"/>
<line x1="73.8" y1="573.5" x2="78.6" y2="573.5" stroke="#000" stroke-width="2.3" stroke-linecap="round"/>
<line x1="596.0" y1="573.5" x2="591.2" y2="573.5" stroke="#000" stroke-width="2.3" stroke-linecap="round"/>
<line x1="73.8" y1="564.0" x2="78.6" y2="564.0" stroke="#000" stroke-width="2.3" stroke-linecap="round"/>
<line x1="596.0" y1="564.0" x2="591.2" y2="564.0" stroke="#000" stroke-width="2.3" stroke-linecap="round"/>
<line x1="73.8" y1="557.3" x2="78.6" y2="557.3" stroke="#000" stroke-width="2.3" stroke-linecap="round"/>
<line x1="596.0" y1="557.3" x2="591.2" y2="557.3" stroke="#000" stroke-width="2.3" stroke-linecap="round"/>
<line x1="73.8" y1="552.1" x2="78.6" y2="552.1" stroke="#000" stroke-width="2.3" stroke-linecap="round"/>
<line x1="596.0" y1="552.1" x2="591.2" y2="552.1" stroke="#000" stroke-width="2.3" stroke-linecap="round"/>
<line x1="73.8" y1="547.9" x2="78.6" y2="547.9" stroke="#000" stroke-width="2.3" stroke-linecap="round"/>
<line x1="596.0" y1="547.9" x2="591.2" y2="547.9" stroke="#000" stroke-width="2.3" stroke-linecap="round"/>
<line x1="73.8" y1="544.3" x2="78.6" y2="544.3" stroke="#000" stroke-width="2.3" stroke-linecap="round"/>
<line x1="596.0" y1="544.3" x2="591.2" y2="544.3" stroke="#000" stroke-width="2.3" stroke-linecap="round"/>
<line x1="73.8" y1="541.2" x2="78.6" y2="541.2" stroke="#000" stroke-width="2.3" stroke-linecap="round"/>
<line x1="596.0" y1="541.2" x2="591.2" y2="541.2" stroke="#000" stroke-width="2.3" stroke-linecap="round"/>
<line x1="73.8" y1="538.5" x2="78.6" y2="538.5" stroke="#000" stroke-width="2.3" stroke-linecap="round"/>
<line x1="596.0" y1="538.5" x2="591.2" y2="538.5" stroke="#000" stroke-width="2.3" stroke-linecap="round"/>
<line x1="73.8" y1="536.0" x2="82.3" y2="536.0" stroke="#000" stroke-width="2.3" stroke-linecap="round"/>
<line x1="596.0" y1="536.0" x2="587.5" y2="536.0" stroke="#000" stroke-width="2.3" stroke-linecap="round"/>
<line x1="73.8" y1="519.9" x2="78.6" y2="519.9" stroke="#000" stroke-width="2.3" stroke-linecap="round"/>
<line x1="596.0" y1="519.9" x2="591.2" y2="519.9" stroke="#000" stroke-width="2.3" stroke-linecap="round"/>
<line x1="73.8" y1="510.4" x2="78.6" y2="510.4" stroke="#000" stroke-width="2.3" stroke-linecap="round"/>
<line x1="596.0" y1="510.4" x2="591.2" y2="510.4" stroke="#000" stroke-width="2.3" stroke-linecap="round"/>
<line x1="73.8" y1="503.7" x2="78.6" y2="503.7" stroke="#000" stroke-width="2.3" stroke-linecap="round"/>
<line x1="596.0" y1="503.7" x2="591.2" y2="503.7" stroke="#000" stroke-width="2.3" stroke-linecap="round"/>
<line x1="73.8" y1="498.5" x2="78.6" y2="498.5" stroke="#000" stroke-width="2.3" stroke-linecap="round"/>
<line x1="596.0" y1="498.5" x2="591.2" y2="498.5" stroke="#000" stroke-width="2.3" stroke-linecap="round"/>
<line x1="73.8" y1="494.3" x2="78.6" y2="494.3" stroke="#000" stroke-width="2.3" stroke-linecap="round"/>
<line x1="596.0" y1="494.3" x2="591.2" y2="494.3" stroke="#000" stroke-width="2.3" stroke-linecap="round"/>
<line x1="73.8" y1="490.7" x2="78.6" y2="490.7" stroke="#000" stroke-width="2.3" stroke-linecap="round"/>
<line x1="596.0" y1="490.7" x2="591.2" y2="490.7" stroke="#000" stroke-width="2.3" stroke-linecap="round"/>
<line x1="73.8" y1="487.6" x2="78.6" y2="487.6" stroke="#000" stroke-width="2.3" stroke-linecap="round"/>
<line x1="596.0" y1="487.6" x2="591.2" y2="487.6" stroke="#000" stroke-width="2.3" stroke-linecap="round"/>
<line x1="73.8" y1="484.9" x2="78.6" y2="484.9" stroke="#000" stroke-width="2.3" stroke-linecap="round"/>
<line x1="596.0" y1="484.9" x2="591.2" y2="484.9" stroke="#000" stroke-width="2.3" stroke-linecap="round"/>
<line x1="73.8" y1="482.4" x2="82.3" y2="482.4" stroke="#000" stroke-width="2.3" stroke-linecap="round"/>
<line x1="596.0" y1="482.4" x2="587.5" y2="482.4" stroke="#000" stroke-width="2.3" stroke-linecap="round"/>
<line x1="73.8" y1="466.3" x2="78.6" y2="466.3" stroke="#000" stroke-width="2.3" stroke-linecap="round"/>
<line x1="596.0" y1="466.3" x2="591.2" y2="466.3" stroke="#000" stroke-width="2.3" stroke-linecap="round"/>
<line x1="73.8" y1="456.8" x2="78.6" y2="456.8" stroke="#000" stroke-width="2.3" stroke-linecap="round"/>
<line x1="596.0" y1="456.8" x2="591.2" y2="456.8" stroke="#000" stroke-width="2.3" stroke-linecap="round"/>
<line x1="73.8" y1="450.1" x2="78.6" y2="450.1" stroke="#000" stroke-width="2.3" stroke-linecap="round"/>
<line x1="596.0" y1="450.1" x2="591.2" y2="450.1" stroke="#000" stroke-width="2.3" stroke-linecap="round"/>
<line x1="73.8" y1="444.9" x2="78.6" y2="444.9" stroke="#000" stroke-width="2.3" stroke-linecap="round"/>
<line x1="596.0" y1="444.9" x2="591.2" y2="444.9" stroke="#000" stroke-width="2.3" stroke-linecap="round"/>
<line x1="73.8" y1="440.7" x2="78.6" y2="440.7" stroke="#000" stroke-width="2.3" stroke-linecap="round"/>
<line x1="596.0" y1="440.7" x2="591.2" y2="440.7" stroke="#000" stroke-width="2.3" stroke-linecap="round"/>
<line x1="73.8" y1="437.1" x2="78.6" y2="437.1" stroke="#000" stroke-width="2.3" stroke-linecap="round"/>
<line x1="596.0" y1="437.1" x2="591.2" y2="437.1" stroke="#000" stroke-width="2.3" stroke-linecap="round"/>
<line x1="73.8" y1="434.0" x2="78.6" y2="434.0" stroke="#000" stroke-width="2.3" stroke-linecap="round"/>
<line x1="596.0" y1="434.0" x2="591.2" y2="434.0" stroke="#000" stroke-width="2.3" stroke-linecap="round"/>
<line x1="73.8" y1="431.3" x2="78.6" y2="431.3" stroke="#000" stroke-width="2.3" stroke-linecap="round"/>
<line x1="596.0" y1="431.3" x2="591.2" y2="431.3" stroke="#000" stroke-width="2.3" stroke-linecap="round"/>
<line x1="73.8" y1="428.8" x2="82.3" y2="428.8" stroke="#000" stroke-width="2.3" stroke-linecap="round"/>
<line x1="596.0" y1="428.8" x2="587.5" y2="428.8" stroke="#000" stroke-width="2.3" stroke-linecap="round"/>
<line x1="73.8" y1="412.7" x2="78.6" y2="412.7" stroke="#000" stroke-width="2.3" stroke-linecap="round"/>
<line x1="596.0" y1="412.7" x2="591.2" y2="412.7" stroke="#000" stroke-width="2.3" stroke-linecap="round"/>
<line x1="73.8" y1="403.2" x2="78.6" y2="403.2" stroke="#000" stroke-width="2.3" stroke-linecap="round"/>
<line x1="596.0" y1="403.2" x2="591.2" y2="403.2" stroke="#000" stroke-width="2.3" stroke-linecap="round"/>
<line x1="73.8" y1="396.5" x2="78.6" y2="396.5" stroke="#000" stroke-width="2.3" stroke-linecap="round"/>
<line x1="596.0" y1="396.5" x2="591.2" y2="396.5" stroke="#000" stroke-width="2.3" stroke-linecap="round"/>
<line x1="73.8" y1="391.3" x2="78.6" y2="391.3" stroke="#000" stroke-width="2.3" stroke-linecap="round"/>
<line x1="596.0" y1="391.3" x2="591.2" y2="391.3" stroke="#000" stroke-width="2.3" stroke-linecap="round"/>
<line x1="73.8" y1="387.1" x2="78.6" y2="387.1" stroke="#000" stroke-width="2.3" stroke-linecap="round"/>
<line x1="596.0" y1="387.1" x2="591.2" y2="387.1" stroke="#000" stroke-width="2.3" stroke-linecap="round"/>
<line x1="73.8" y1="383.5" x2="78.6" y2="383.5" stroke="#000" stroke-width="2.3" stroke-linecap="round"/>
<line x1="596.0" y1="383.5" x2="591.2" y2="383.5" stroke="#000" stroke-width="2.3" stroke-linecap="round"/>
<line x1="73.8" y1="380.4" x2="78.6" y2="380.4" stroke="#000" stroke-width="2.3" stroke-linecap="round"/>
<line x1="596.0" y1="380.4" x2="591.2" y2="380.4" stroke="#000" stroke-width="2.3" stroke-linecap="round"/>
<line x1="73.8" y1="377.7" x2="78.6" y2="377.7" stroke="#000" stroke-width="2.3" stroke-linecap="round"/>
<line x1="596.0" y1="377.7" x2="591.2" y2="377.7" stroke="#000" stroke-width="2.3" stroke-linecap="round"/>
<line x1="73.8" y1="375.2" x2="82.3" y2="375.2" stroke="#000" stroke-width="2.3" stroke-linecap="round"/>
<line x1="596.0" y1="375.2" x2="587.5" y2="375.2" stroke="#000" stroke-width="2.3" stroke-linecap="round"/>
<line x1="73.8" y1="359.1" x2="78.6" y2="359.1" stroke="#000" stroke-width="2.3" stroke-linecap="round"/>
<line x1="596.0" y1="359.1" x2="591.2" y2="359.1" stroke="#000" stroke-width="2.3" stroke-linecap="round"/>
<line x1="73.8" y1="344.0" x2="82.3" y2="344.0" stroke="#000" stroke-width="2.3" stroke-linecap="round"/>
<line x1="596.0" y1="344.0" x2="587.5" y2="344.0" stroke="#000" stroke-width="2.3" stroke-linecap="round"/>
<line x1="73.8" y1="334.7" x2="78.6" y2="334.7" stroke="#000" stroke-width="2.3" stroke-linecap="round"/>
<line x1="596.0" y1="334.7" x2="591.2" y2="334.7" stroke="#000" stroke-width="2.3" stroke-linecap="round"/>
<line x1="73.8" y1="325.4" x2="78.6" y2="325.4" stroke="#000" stroke-width="2.3" stroke-linecap="round"/>
<line x1="596.0" y1="325.4" x2="591.2" y2="325.4" stroke="#000" stroke-width="2.3" stroke-linecap="round"/>
<line x1="73.8" y1="316.0" x2="78.6" y2="316.0" stroke="#000" stroke-width="2.3" stroke-linecap="round"/>
<line x1="596.0" y1="316.0" x2="591.2" y2="316.0" stroke="#000" stroke-width="2.3" stroke-linecap="round"/>
<line x1="73.8" y1="306.7" x2="78.6" y2="306.7" stroke="#000" stroke-width="2.3" stroke-linecap="round"/>
<line x1="596.0" y1="306.7" x2="591.2" y2="306.7" stroke="#000" stroke-width="2.3" stroke-linecap="round"/>
<line x1="73.8" y1="297.4" x2="82.3" y2="297.4" stroke="#000" stroke-width="2.3" stroke-linecap="round"/>
<line x1="596.0" y1="297.4" x2="587.5" y2="297.4" stroke="#000" stroke-width="2.3" stroke-linecap="round"/>
<line x1="73.8" y1="288.1" x2="78.6" y2="288.1" stroke="#000" stroke-width="2.3" stroke-linecap="round"/>
<line x1="596.0" y1="288.1" x2="591.2" y2="288.1" stroke="#000" stroke-width="2.3" stroke-linecap="round"/>
<line x1="73.8" y1="278.8" x2="78.6" y2="278.8" stroke="#000" stroke-width="2.3" stroke-linecap="round"/>
<line x1="596.0" y1="278.8" x2="591.2" y2="278.8" stroke="#000" stroke-width="2.3" stroke-linecap="round"/>
<line x1="73.8" y1="269.4" x2="78.6" y2="269.4" stroke="#000" stroke-width="2.3" stroke-linecap="round"/>
<line x1="596.0" y1="269.4" x2="591.2" y2="269.4" stroke="#000" stroke-width="2.3" stroke-linecap="round"/>
<line x1="73.8" y1="260.1" x2="78.6" y2="260.1" stroke="#000" stroke-width="2.3" stroke-linecap="round"/>
<line x1="596.0" y1="260.1" x2="591.2" y2="260.1" stroke="#000" stroke-width="2.3" stroke-linecap="round"/>
<line x1="73.8" y1="250.8" x2="82.3" y2="250.8" stroke="#000" stroke-width="2.3" stroke-linecap="round"/>
<line x1="596.0" y1="250.8" x2="587.5" y2="250.8" stroke="#000" stroke-width="2.3" stroke-linecap="round"/>
<rect x="73.8" y="11.5" width="522.2" height="229.8" fill="none" stroke="#000" stroke-width="2.7" stroke-linejoin="round"/>
<rect x="73.8" y="242.3" width="522.2" height="111.0" fill="none" stroke="#000" stroke-width="2.7" stroke-linejoin="round"/>
<rect x="73.8" y="358.6" width="522.2" height="231.89999999999998" fill="none" stroke="#000" stroke-width="2.7" stroke-linejoin="round"/>
<g transform="translate(43.32,16.40) scale(1.05,1)"><path d="M4.90,0 V-11.55" stroke="#000" stroke-width="1.63" fill="none"/><path d="M5.70,-11.44 C4.58,-9.60 2.98,-8.96 0.98,-8.64" stroke="#000" stroke-width="1.44" fill="none"/><text x="8.90" y="0" font-size="16">0</text></g>
<g transform="translate(52.66,54.73) scale(1.05,1)"><path d="M4.90,0 V-11.55" stroke="#000" stroke-width="1.63" fill="none"/><path d="M5.70,-11.44 C4.58,-9.60 2.98,-8.96 0.98,-8.64" stroke="#000" stroke-width="1.44" fill="none"/></g>
<g transform="translate(38.65,93.06) scale(1.05,1)"><text x="0.00" y="0" font-size="16">0</text><text x="8.90" y="0" font-size="16">.</text><path d="M18.24,0 V-11.55" stroke="#000" stroke-width="1.63" fill="none"/><path d="M19.04,-11.44 C17.92,-9.60 16.32,-8.96 14.32,-8.64" stroke="#000" stroke-width="1.44" fill="none"/></g>
<g transform="translate(29.31,131.39) scale(1.05,1)"><text x="0.00" y="0" font-size="16">0</text><text x="8.90" y="0" font-size="16">.</text><text x="13.34" y="0" font-size="16">0</text><path d="M27.14,0 V-11.55" stroke="#000" stroke-width="1.63" fill="none"/><path d="M27.94,-11.44 C26.82,-9.60 25.22,-8.96 23.22,-8.64" stroke="#000" stroke-width="1.44" fill="none"/></g>
<g transform="translate(32.24,169.72) scale(1.0,1)"><path d="M4.90,0 V-11.55" stroke="#000" stroke-width="1.63" fill="none"/><path d="M5.70,-11.44 C4.58,-9.60 2.98,-8.96 0.98,-8.64" stroke="#000" stroke-width="1.44" fill="none"/><text x="8.90" y="0" font-size="16">0</text><text x="17.79" y="-4.5" font-size="10.5">−3</text></g>
<g transform="translate(32.24,208.05) scale(1.0,1)"><path d="M4.90,0 V-11.55" stroke="#000" stroke-width="1.63" fill="none"/><path d="M5.70,-11.44 C4.58,-9.60 2.98,-8.96 0.98,-8.64" stroke="#000" stroke-width="1.44" fill="none"/><text x="8.90" y="0" font-size="16">0</text><text x="17.79" y="-4.5" font-size="10.5">−4</text></g>
<g transform="translate(52.66,255.70) scale(1.05,1)"><text x="0.00" y="0" font-size="16">5</text></g>
<g transform="translate(52.66,302.30) scale(1.05,1)"><text x="0.00" y="0" font-size="16">0</text></g>
<g transform="translate(38.65,380.10) scale(1.05,1)"><text x="0.00" y="0" font-size="16">0</text><text x="8.90" y="0" font-size="16">.</text><path d="M18.24,0 V-11.55" stroke="#000" stroke-width="1.63" fill="none"/><path d="M19.04,-11.44 C17.92,-9.60 16.32,-8.96 14.32,-8.64" stroke="#000" stroke-width="1.44" fill="none"/></g>
<g transform="translate(29.31,433.70) scale(1.05,1)"><text x="0.00" y="0" font-size="16">0</text><text x="8.90" y="0" font-size="16">.</text><text x="13.34" y="0" font-size="16">0</text><path d="M27.14,0 V-11.55" stroke="#000" stroke-width="1.63" fill="none"/><path d="M27.94,-11.44 C26.82,-9.60 25.22,-8.96 23.22,-8.64" stroke="#000" stroke-width="1.44" fill="none"/></g>
<g transform="translate(32.24,487.30) scale(1.0,1)"><path d="M4.90,0 V-11.55" stroke="#000" stroke-width="1.63" fill="none"/><path d="M5.70,-11.44 C4.58,-9.60 2.98,-8.96 0.98,-8.64" stroke="#000" stroke-width="1.44" fill="none"/><text x="8.90" y="0" font-size="16">0</text><text x="17.79" y="-4.5" font-size="10.5">−3</text></g>
<g transform="translate(32.24,540.90) scale(1.0,1)"><path d="M4.90,0 V-11.55" stroke="#000" stroke-width="1.63" fill="none"/><path d="M5.70,-11.44 C4.58,-9.60 2.98,-8.96 0.98,-8.64" stroke="#000" stroke-width="1.44" fill="none"/><text x="8.90" y="0" font-size="16">0</text><text x="17.79" y="-4.5" font-size="10.5">−4</text></g>
<g transform="translate(32.24,594.50) scale(1.0,1)"><path d="M4.90,0 V-11.55" stroke="#000" stroke-width="1.63" fill="none"/><path d="M5.70,-11.44 C4.58,-9.60 2.98,-8.96 0.98,-8.64" stroke="#000" stroke-width="1.44" fill="none"/><text x="8.90" y="0" font-size="16">0</text><text x="17.79" y="-4.5" font-size="10.5">−5</text></g>
<g transform="translate(90.34,609.80) scale(1.07,1)"><path d="M4.90,0 V-11.55" stroke="#000" stroke-width="1.63" fill="none"/><path d="M5.70,-11.44 C4.58,-9.60 2.98,-8.96 0.98,-8.64" stroke="#000" stroke-width="1.44" fill="none"/></g>
<g transform="translate(301.38,609.80) scale(1.07,1)"><path d="M4.90,0 V-11.55" stroke="#000" stroke-width="1.63" fill="none"/><path d="M5.70,-11.44 C4.58,-9.60 2.98,-8.96 0.98,-8.64" stroke="#000" stroke-width="1.44" fill="none"/><text x="8.90" y="0" font-size="16">0</text></g>
<g transform="translate(512.42,609.80) scale(1.07,1)"><path d="M4.90,0 V-11.55" stroke="#000" stroke-width="1.63" fill="none"/><path d="M5.70,-11.44 C4.58,-9.60 2.98,-8.96 0.98,-8.64" stroke="#000" stroke-width="1.44" fill="none"/><text x="8.90" y="0" font-size="16">0</text><text x="17.79" y="0" font-size="16">0</text></g>
<text x="336.5" y="629.5" font-size="17.5" text-anchor="middle" font-weight="normal" fill="#000" >Energy (keV)</text>
<text transform="translate(15.6,126.8) rotate(-90) scale(1.064,1)" font-size="16" text-anchor="middle">Counts sec<tspan font-size="10.5" dy="-5.8">−1</tspan><tspan dy="5.8"> keV</tspan><tspan font-size="10.5" dy="-5.8">−1</tspan></text>
<text transform="translate(19.3,476) rotate(-90) scale(1.06,1)" font-size="16.5" text-anchor="middle">keV (keV/cm<tspan font-size="11" dy="-6">2</tspan><tspan dy="6"> s keV)</tspan></text>
<path d="M7.6,295.2 L18.8,302" stroke="#000" stroke-width="2.1" stroke-linecap="round" fill="none"/>
<path d="M8.9,302.5 C6.9,301.9 7.1,299.3 10,298.8 L16.4,296.6 C19.2,295.7 19,293.8 17,294.2" stroke="#000" stroke-width="1.5" stroke-linecap="round" fill="none"/>
<text x="543.7" y="55.3" font-size="19.5" text-anchor="middle" font-weight="normal" fill="#000" >(a)</text>
<text x="543.2" y="280.5" font-size="19.5" text-anchor="middle" font-weight="normal" fill="#000" >(b)</text>
<text x="544.0" y="555.6" font-size="19.5" text-anchor="middle" font-weight="normal" fill="#000" >(c)</text>
<text x="397.6" y="113.6" font-size="21" text-anchor="middle" font-weight="bold" fill="#000" >HXD-PIN</text>
<text x="530.0" y="113.1" font-size="21" text-anchor="middle" font-weight="bold" fill="#000" >HXD-GSO</text>
<text x="521.5" y="146.0" font-size="15.5" text-anchor="middle" font-weight="normal" fill="#3a3f42" >1% of NXB</text>
<text transform="translate(366.2,199.5) rotate(24.7)" font-size="15" fill="#3c474d">2% of NXB</text>
<text transform="translate(266.75,67.5) rotate(40.2) scale(1.1,1)" x="-1.9" y="7.0" text-anchor="middle" font-size="19.2" font-weight="bold" fill="#3e4c54">XIS-FI</text>
<text transform="translate(230.3,104.9) rotate(39) scale(1.12,1)" x="-1.9" y="7.0" text-anchor="middle" font-size="19" font-weight="bold" fill="#000">XIS-BI</text>
</svg>
</body></html>
